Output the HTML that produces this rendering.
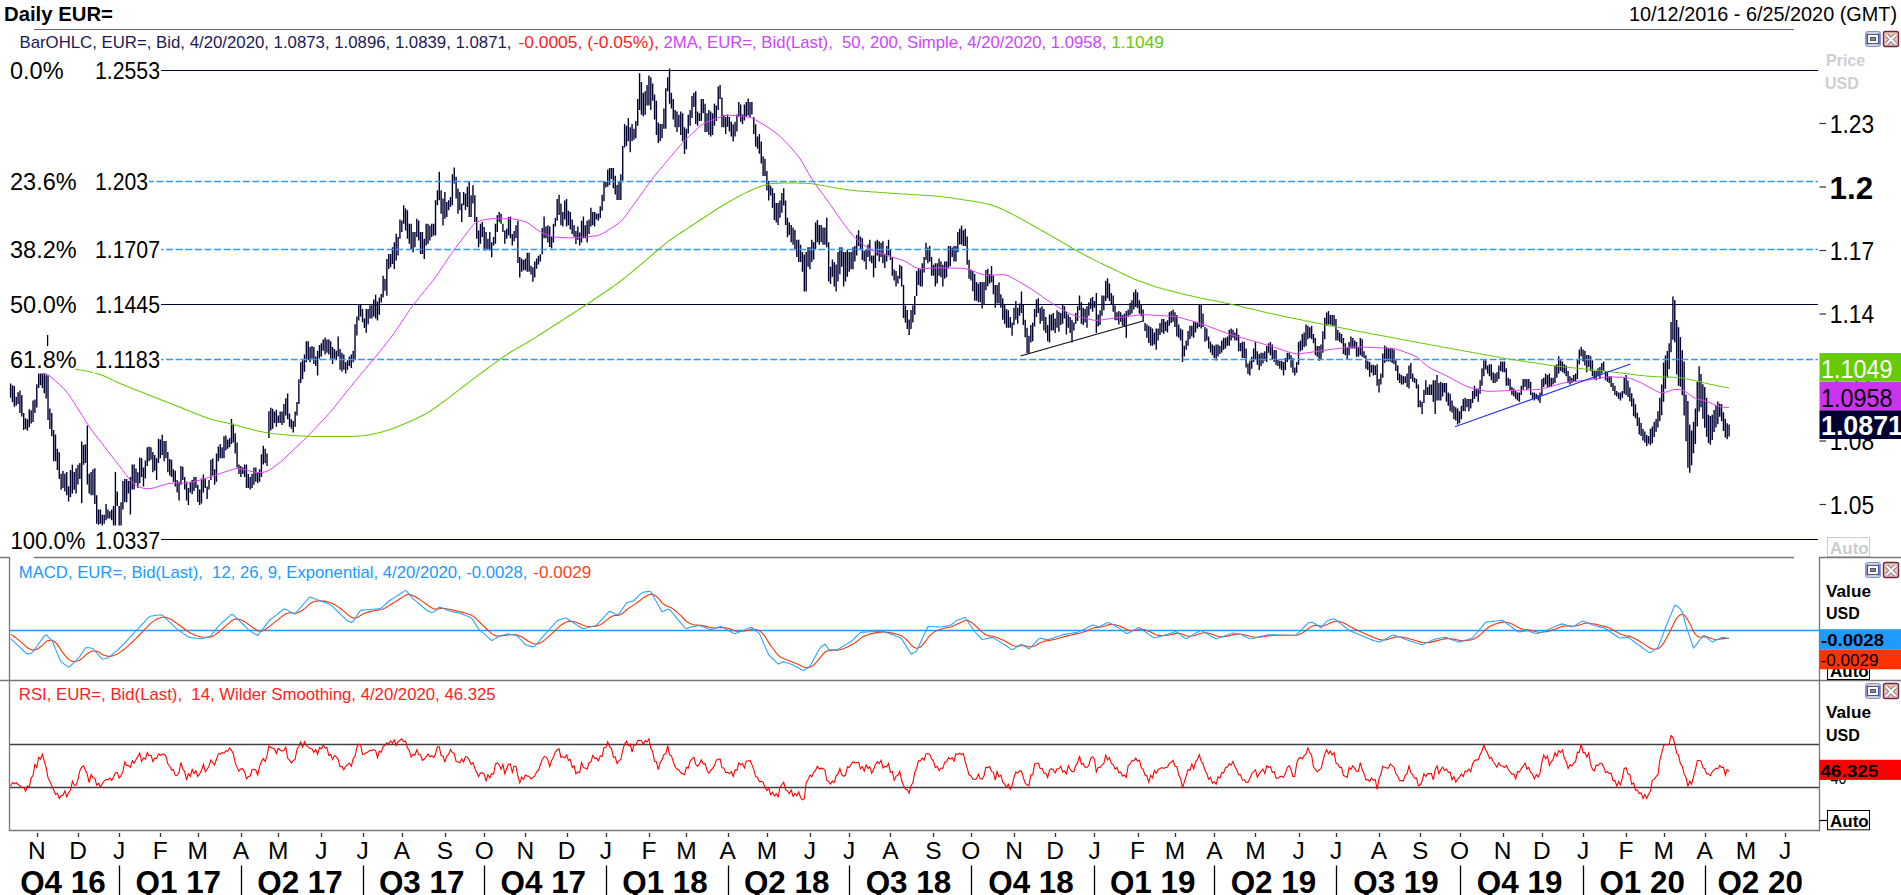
<!DOCTYPE html><html><head><meta charset="utf-8"><style>html,body{margin:0;padding:0;background:#fff;overflow:hidden}svg{display:block}text{font-family:"Liberation Sans",sans-serif}</style></head><body><svg width="1901" height="895" viewBox="0 0 1901 895"><rect width="1901" height="895" fill="#fff"/><text x="4" y="21" font-size="21" fill="#000" font-weight="bold" textLength="109" lengthAdjust="spacingAndGlyphs">Daily EUR=</text><text x="1629" y="21" font-size="21" fill="#000" textLength="268" lengthAdjust="spacingAndGlyphs">10/12/2016 - 6/25/2020 (GMT)</text><path d="M34 29.5H1794" stroke="#666" stroke-width="1"/><rect x="1865.5" y="31.5" width="15" height="15" rx="2" fill="#c9d0ea" stroke="#8a97c4" stroke-width="1"/><rect x="1866.5" y="33.5" width="1.6" height="11" fill="#48529a"/><rect x="1878" y="33.5" width="1.6" height="11" fill="#48529a"/><rect x="1868.2" y="34" width="9.8" height="9.5" fill="#fff"/><path d="M1868 34.5H1878M1868 43.5H1878" stroke="#5a5a5a" stroke-width="1"/><rect x="1870.5" y="37.5" width="5" height="3" fill="#7a88c8" stroke="#555" stroke-width="1"/><rect x="1883.5" y="31.5" width="15" height="15" rx="2" fill="#eec4b0" stroke="#6e2444" stroke-width="1.4"/><path d="M1886.5 35L1895.5 44M1895.5 35L1886.5 44" stroke="#7a7a80" stroke-width="4"/><path d="M1886.5 35L1895.5 44M1895.5 35L1886.5 44" stroke="#fff" stroke-width="2.4"/><text y="47.5" font-size="17" xml:space="preserve"><tspan x="19.5" fill="#1a1a55" textLength="492" lengthAdjust="spacingAndGlyphs">BarOHLC, EUR=, Bid, 4/20/2020, 1.0873, 1.0896, 1.0839, 1.0871,</tspan><tspan x="518.4" fill="#ff2222" textLength="140.5" lengthAdjust="spacingAndGlyphs">-0.0005, (-0.05%),</tspan><tspan x="663.5" fill="#cc44ff" textLength="443" lengthAdjust="spacingAndGlyphs">2MA, EUR=, Bid(Last),  50, 200, Simple, 4/20/2020, 1.0958,</tspan><tspan x="1111.2" fill="#66cc00" textLength="52.6" lengthAdjust="spacingAndGlyphs">1.1049</tspan></text><path d="M161 70.5H1818" stroke="#000033" stroke-width="1"/><path d="M161 304.5H1818" stroke="#000033" stroke-width="1"/><path d="M161 539.5H1818" stroke="#000033" stroke-width="1"/><g id="bars"><path d="M10.58 383.4V397.7M12.45 385.2V402.2M14.32 386.1V406.7M16.20 396.8V405.8M18.07 392.3V404M19.94 390.6V412.9M21.81 395V416.5M23.68 412.9V429.9M25.56 418.3V429M27.43 419.2V430.8M29.30 409.3V427.2M31.17 410.2V423.6M33.04 400.4V421.9M34.92 399.5V412.9M36.79 384.3V407.5M38.66 373.6V387.9M40.53 373.6V385.2M42.40 373.6V387.9M44.28 373.6V393.2M46.15 374.5V398.6M48.02 375.4V420.1M49.89 408.4V429M51.76 412.9V436.2M53.64 429.9V461.2M55.51 434.4V461.2M57.38 448.7V470.1M59.25 452.2V479.1M61.12 473.7V489.8M63.00 471V488M64.87 473.7V491.6M66.74 471.9V495.2M68.61 486.2V501.4M70.48 470.1V496.9M72.36 464.8V493.4M74.23 471.9V489.8M76.10 468.3V493.4M77.97 464.8V484.4M79.84 463V479.1M81.72 441.5V503.2M83.59 445.1V464.8M85.46 444.2V463M87.33 425.4V484.4M89.20 473.7V493.4M91.08 471.9V495.2M92.95 469.2V495.2M94.82 468.3V504.1M96.69 495.2V523.8M98.56 509.5V524.7M100.44 509.5V523.8M102.31 514.8V525.6M104.18 514.8V523.8M106.05 504.1V520.2M107.92 509.5V518.4M109.80 511.2V518.4M111.67 509.5V520.2M113.54 505.9V525.6M115.41 471.9V525.6M117.28 491.6V505.9M119.16 505.9V525.6M121.03 502.3V525.6M122.90 480.9V509.5M124.77 479.1V502.3M126.64 479.1V502.3M128.52 480.9V493.4M130.39 477V514.5M132.26 464.5V489.5M134.13 464.5V489.5M136.00 468.4V483.2M137.88 472.3V487.9M139.75 457.4V483.2M141.62 458.2V477M143.49 467.6V486.4M145.36 460.6V478.5M147.24 447.3V466M149.11 446.5V461.3M150.98 447.3V459.8M152.85 452V472.3M154.72 455.1V470.7M156.60 458.2V480.1M158.47 438.7V462.9M160.34 439.4V458.2M162.21 434.7V455.1M164.08 441V461.3M165.96 441V458.2M167.83 452V472.3M169.70 459V475.4M171.57 459.8V477M173.44 469.2V481.7M175.32 470.7V486.4M177.19 480.1V492.6M179.06 481.7V500.4M180.93 466V484.8M182.80 466.8V480.1M184.68 477V489.5M186.55 481.7V500.4M188.42 487.9V505.1M190.29 481.7V492.6M192.16 480.1V494.2M194.04 477V491.1M195.91 477V487.9M197.78 484.8V502M199.65 489.5V505.1M201.52 478.5V503.6M203.40 474.6V492.6M205.27 478.5V487.9M207.14 486.4V498.9M209.01 480.1V489.5M210.88 459.8V480.1M212.76 458.2V475.4M214.63 469.2V484.8M216.50 453.5V481.7M218.37 446.5V461.3M220.24 444.1V458.2M222.12 447.3V458.2M223.99 436.3V458.2M225.86 435.5V450.4M227.73 439.4V448.8M229.60 437.9V447.3M231.48 419.1V444.1M233.35 423.8V442.6M235.22 433.2V453.5M237.09 442.6V467.6M238.96 464.5V473.9M240.84 466V477M242.71 467.6V473.9M244.58 464.5V477M246.45 464.5V487.9M248.32 473.9V487.9M250.20 477V489.5M252.07 473.9V487.9M253.94 467.6V484.8M255.81 467.6V481.7M257.68 472.3V483.2M259.56 469.2V481.7M261.43 454.3V477M263.30 445.7V464.5M265.17 448.8V462.9M267.04 453.5V466M268.92 411.3V437.9M270.79 407.8V430.6M272.66 408.7V428.7M274.53 411.6V423M276.40 409.7V426.8M278.28 415.4V423M280.15 411.6V423M282.02 411.6V424.9M283.89 404V423M285.76 398.3V415.4M287.64 393.5V419.2M289.51 413.5V426.8M291.38 419.2V428.7M293.25 421.1V432.5M295.12 411.6V426.8M297.00 402.1V415.4M298.87 379.3V404M300.74 362.2V383.1M302.61 360.3V379.3M304.48 354.6V371.7M306.36 341.3V362.2M308.23 341.3V360.3M310.10 347V362.2M311.97 346V358.4M313.84 347V364.1M315.72 356.5V366M317.59 350.8V375.5M319.46 345.1V358.4M321.33 343.2V356.5M323.20 339.4V350.8M325.08 337.5V354.6M326.95 339.4V352.7M328.82 339.4V354.6M330.69 341.3V358.4M332.56 347V364.1M334.44 348.9V358.4M336.31 350.8V360.3M338.18 336.5V356.5M340.05 348.9V369.8M341.92 352.7V371.7M343.80 354.6V369.8M345.67 362.2V373.6M347.54 360.3V369.8M349.41 356.5V366M351.28 354.6V367.9M353.16 350.8V362.2M355.03 324.2V360.3M356.90 316.6V335.6M358.77 304.2V320.4M360.64 304.2V316.6M362.52 309V322.3M364.39 318.5V328M366.26 309V332.7M368.13 309V324.2M370.00 305.2V318.5M371.88 305.2V318.5M373.75 299.5V316.6M375.62 294.7V318.5M377.49 301.4V320.4M379.36 297.6V314.7M381.24 294.1V302.5M383.11 275.7V297.5M384.98 279V290.8M386.85 258.9V295.8M388.72 253.9V269M390.60 253.9V267.3M392.47 247.2V264M394.34 242.2V269M396.21 233.8V260.6M398.08 237.1V255.6M399.96 219.5V238.8M401.83 220.4V232.1M403.70 205.3V223.7M405.57 208.6V230.4M407.44 210.3V238.8M409.32 223.7V243.8M411.19 223.7V248.9M413.06 232.1V252.2M414.93 232.1V247.2M416.80 218.7V237.1M418.68 220.4V240.5M420.55 232.1V253.9M422.42 232.1V253.9M424.29 238.8V258.9M426.16 223.7V245.5M428.04 223.7V243.8M429.91 225.4V240.5M431.78 223.7V237.1M433.65 223.7V235.5M435.52 200.2V235.5M437.40 190.2V205.3M439.27 171.7V200.2M441.14 190.2V213.7M443.01 198.6V225.4M444.88 191.9V218.7M446.76 201.9V217M448.63 200.2V210.3M450.50 196.9V206.9M452.37 174.3V205.3M454.24 167.5V183.5M456.12 176.8V198.6M457.99 188.5V213.7M459.86 191.9V210.3M461.73 203.6V222M463.60 191.9V205.3M465.48 193.5V210.3M467.35 186.8V206.9M469.22 181V217M471.09 195.2V217M472.96 185.2V203.6M474.84 195.2V222M476.71 217V238.8M478.58 230.4V247.2M480.45 223.7V243.8M482.32 222V237.1M484.20 227.1V250.5M486.07 232.1V250.5M487.94 238.8V248.9M489.81 232.1V250.5M491.68 242.2V257.3M493.56 237.1V245.5M495.43 223.7V243.8M497.30 215.3V232.1M499.17 212V222M501.04 213.7V223.7M502.92 223.7V232.1M504.79 230.4V243.8M506.66 228.7V238.8M508.53 217V235.5M510.40 216.5V238.3M512.28 233.9V245.5M514.15 231V241.2M516.02 225.2V238.3M517.89 220.8V262.9M519.76 257.1V277.5M521.64 258.6V271.7M523.51 260V270.2M525.38 258.6V270.2M527.25 252.8V271.7M529.12 252.8V271.7M531.00 265.8V274.6M532.87 267.3V281.8M534.74 261.5V277.5M536.61 258.6V268.8M538.48 255.7V264.4M540.36 254.2V261.5M542.23 228.1V254.2M544.10 216.5V238.3M545.97 226.6V238.3M547.84 225.2V242.6M549.72 226.6V247M551.59 236.8V248.4M553.46 223.7V242.6M555.33 217.9V226.6M557.20 199V220.8M559.08 194.7V215M560.95 203.4V225.2M562.82 212.1V226.6M564.69 200.5V219.4M566.56 199V226.6M568.44 210.7V225.2M570.31 212.1V229.5M572.18 219.4V233.9M574.05 225.2V236.8M575.92 231V244.1M577.80 226.6V239.7M579.67 232.4V245.5M581.54 220.8V242.6M583.41 216.5V238.3M585.28 225.2V238.3M587.16 220.8V242.6M589.03 219.4V233.9M590.90 207.8V226.6M592.77 212.1V225.2M594.64 212.1V226.6M596.52 213.6V219.4M598.39 213.6V220.8M600.26 206.3V217.9M602.13 194.7V210.7M604.00 181.6V201.2M605.88 181.6V187.4M607.75 169.5V186.7M609.62 167.9V185.1M611.49 167.9V178.9M613.36 167.9V188.3M615.24 175.8V194.5M617.11 185.1V200M618.98 182V200M620.85 174.2V200M622.72 146V180.4M624.60 124.1V147.6M626.47 125.7V146M628.34 117.9V141.3M630.21 127.3V152.3M632.08 124.1V141.3M633.96 128.8V139.8M635.83 121V138.2M637.70 99.1V125.7M639.57 73.3V110.1M641.44 81.9V114.7M643.32 92.8V116.3M645.19 91.3V114.7M647.06 85V105.4M648.93 75.6V105.4M650.80 77.2V110.1M652.68 83.5V100.7M654.55 94.4V119.4M656.42 100.7V135.1M658.29 122.6V142.9M660.16 124.1V141.3M662.04 124.1V138.2M663.91 108.5V128.8M665.78 88.2V128.8M667.65 77.2V91.3M669.52 68.6V103.8M671.40 92.8V108.5M673.27 99.1V119.4M675.14 110.1V127.3M677.01 111.6V132M678.88 114.7V127.3M680.76 111.6V135.1M682.63 113.2V141.3M684.50 127.3V153.9M686.37 128.8V149.2M688.24 114.7V133.5M690.12 110.1V125.7M691.99 96V117.9M693.86 92.8V106.9M695.73 91.3V124.1M697.60 111.6V125.7M699.48 113.2V121M701.35 99.1V121M703.22 99.1V113.2M705.09 103.8V132M706.96 113.2V132M708.84 110.1V135.1M710.71 111.6V136.6M712.58 113.2V135.1M714.45 103.8V125.7M716.32 105.4V121M718.20 86.6V110.1M720.07 85V99.1M721.94 97.5V127.3M723.81 114.7V127.3M725.68 116.9V134.1M727.56 114.4V126.7M729.43 116.9V131.6M731.30 121.8V136.5M733.17 124.2V141.5M735.04 121.8V136.5M736.92 114.4V131.6M738.79 102.1V116.9M740.66 104.6V121.8M742.53 114.4V124.2M744.40 104.6V120.6M746.28 102.1V116.9M748.15 98.4V115.6M750.02 102.1V116.9M751.89 102.1V114.4M753.76 116.9V134.1M755.64 124.2V146.4M757.51 136.5V148.8M759.38 134.1V153.7M761.25 141.5V163.6M763.12 156.2V175.9M765.00 158.7V175.9M766.87 171V190.6M768.74 180.8V200.5M770.61 185.7V195.5M772.48 188.2V207.8M774.36 193.1V220.1M776.23 202.9V222.6M778.10 202.9V225M779.97 200.5V217.7M781.84 193.1V212.7M783.72 188.2V205.4M785.59 200.5V225M787.46 217.7V237.3M789.33 222.6V234.9M791.20 225V242.2M793.08 227.5V244.7M794.95 230V249.6M796.82 239.8V257M798.69 239.8V261.9M800.56 244.7V261.9M802.44 252.1V271.7M804.31 254.5V291.4M806.18 252.1V291.4M808.05 247.2V266.8M809.92 247.2V269.3M811.80 239.8V261.9M813.67 242.2V259.4M815.54 222.6V249.6M817.41 220.1V242.2M819.28 225V244.7M821.16 225V242.2M823.03 227.5V244.7M824.90 227.5V244.7M826.77 217.7V247.2M828.64 242.2V281.6M830.52 266.8V284M832.39 259.4V276.7M834.26 261.9V286.5M836.13 264.4V291.4M838.00 252.1V281.6M839.88 247.2V274.2M841.75 247.2V266.8M843.62 252.1V286.5M845.49 252.1V281.6M847.36 249.6V276.7M849.24 252.1V271.7M851.11 252.1V269.3M852.98 247.2V269.3M854.85 246V261.6M856.72 235V255.4M858.60 230.3V246M860.47 236.6V249.1M862.34 238.2V260.1M864.21 250.7V261.6M866.08 249.1V269.4M867.96 244.4V256.9M869.83 239.7V261.6M871.70 255.4V263.2M873.57 255.4V277.3M875.44 241.3V267.9M877.32 239.7V255.4M879.19 241.3V261.6M881.06 242.8V256.9M882.93 241.3V263.2M884.80 253.8V267.9M886.68 246V261.6M888.55 239.7V255.4M890.42 249.1V260.1M892.29 256.9V275.7M894.16 269.4V280.4M896.04 271V286.6M897.91 275.7V283.5M899.78 264.7V278.8M901.65 266.3V286.6M903.52 285.1V317.9M905.40 305.4V322.6M907.27 310.1V328.9M909.14 319.5V335.1M911.01 310.1V328.9M912.88 305.4V322.6M914.76 296V314.8M916.63 271V296M918.50 267.9V285.1M920.37 269.4V286.6M922.24 263.2V286.6M924.12 256.9V272.6M925.99 242.8V260.1M927.86 247.5V263.2M929.73 246V261.6M931.60 256.9V275.7M933.48 264.7V275.7M935.35 263.2V286.6M937.22 263.2V283.5M939.09 258.5V275.7M940.96 261.6V277.3M942.84 264.7V286.6M944.71 261.6V278.8M946.58 261.6V277.3M948.45 246V267.9M950.32 246V266.3M952.20 247.5V256.9M954.07 246V261.6M955.94 246V261.6M957.81 231.9V252.2M959.68 228.8V244.4M961.56 225.6V244.4M963.43 230.3V246M965.30 228.8V246M967.17 236.6V264.7M969.04 260.1V278.8M970.92 269.4V280.4M972.79 271V291.3M974.66 274.1V300.7M976.53 282V300.7M978.40 283.5V302.3M980.28 282V302.3M982.15 282V308.5M984.02 282V303.9M985.89 270.1V290.2M987.76 268.8V286.2M989.64 274.1V283.5M991.51 266.1V282.2M993.38 275.5V294.3M995.25 284.9V307.7M997.12 284.9V303.6M999.00 282.2V303.6M1000.87 294.3V307.7M1002.74 298.3V319.7M1004.61 305V323.8M1006.48 309V327.8M1008.36 310.3V327.8M1010.23 317.1V327.8M1012.10 322.4V335.8M1013.97 307.7V325.1M1015.84 301V319.7M1017.72 307.7V323.8M1019.59 303.6V315.7M1021.46 291.6V313M1023.33 305V325.1M1025.20 319.7V337.2M1027.08 327.8V353.3M1028.95 335.8V353.3M1030.82 325.1V342.5M1032.69 322.4V341.2M1034.56 309V326.4M1036.44 299.6V317.1M1038.31 298.3V313M1040.18 307.7V323.8M1042.05 306.3V321.1M1043.92 309V330.5M1045.80 317.1V333.1M1047.67 325.1V341.2M1049.54 314.4V342.5M1051.41 314.4V330.5M1053.28 313V330.5M1055.16 318.4V333.1M1057.03 310.3V327.8M1058.90 311.7V331.8M1060.77 313V325.1M1062.64 305V323.8M1064.52 306.3V318.4M1066.39 311.7V334.5M1068.26 314.4V327.8M1070.13 317.1V333.1M1072.00 319.7V342.5M1073.88 322.4V330.5M1075.75 313V323.8M1077.62 306.3V321.1M1079.49 295.6V310.3M1081.36 302.3V323.8M1083.24 307.7V325.1M1085.11 309V322.4M1086.98 306.3V327.8M1088.85 302.3V315.7M1090.72 298.3V309M1092.60 296.9V311.7M1094.47 301V307.7M1096.34 292.9V333.1M1098.21 314.4V326.4M1100.08 310.3V325.1M1101.96 295.6V315.7M1103.83 295.6V310.3M1105.70 280.8V301M1107.57 278.2V298.3M1109.44 283.5V301M1111.32 292.9V305M1113.19 295.6V311.7M1115.06 305.6V320.3M1116.93 312.3V320.3M1118.80 311V324.4M1120.68 312.3V321.7M1122.55 315V325.7M1124.42 313.6V327.1M1126.29 311V337.8M1128.16 309.6V316.3M1130.04 302.9V315M1131.91 300.2V313.6M1133.78 292.2V309.6M1135.65 289.5V306.9M1137.52 292.2V308.3M1139.40 300.2V313.6M1141.27 304.3V316.3M1143.14 309.6V321.7M1145.01 323V331.1M1146.88 324.4V337.8M1148.76 325.7V343.1M1150.63 327.1V345.8M1152.50 328.4V345.8M1154.37 332.4V344.5M1156.24 328.4V349.8M1158.12 328.4V340.5M1159.99 323V335.1M1161.86 319V332.4M1163.73 319V333.8M1165.60 321.7V331.1M1167.48 320.3V332.4M1169.35 312.3V325.7M1171.22 311V323M1173.09 309.6V321.7M1174.96 312.3V327.1M1176.84 315V336.4M1178.71 324.4V337.8M1180.58 328.4V340.5M1182.45 329.7V361.9M1184.32 345.8V356.6M1186.20 340.5V349.8M1188.07 331.1V345.8M1189.94 325.7V339.1M1191.81 325.7V336.4M1193.68 321.7V337.8M1195.56 321.7V332.4M1197.43 323V328.4M1199.30 304.3V327.1M1201.17 304.3V328.4M1203.04 313.6V327.1M1204.92 327.1V341.8M1206.79 328.4V340.5M1208.66 336.4V348.5M1210.53 341.8V352.5M1212.40 344.5V355.2M1214.28 345.8V357.9M1216.15 344.5V360.6M1218.02 344.5V356.6M1219.89 345.8V353.9M1221.76 340.5V352.5M1223.64 337.8V349.8M1225.51 337.8V348.5M1227.38 336.4V345.8M1229.25 329.7V345.8M1231.12 328.4V340.5M1233.00 329.7V337.8M1234.87 332.4V340.5M1236.74 328.4V340.5M1238.61 335.1V351.2M1240.48 343.1V351.2M1242.36 341.8V357.9M1244.23 341.8V357.9M1246.10 348.6V367.4M1247.97 363.4V374.1M1249.84 360.7V375.5M1251.72 356.7V368.8M1253.59 348.6V362.1M1255.46 341.9V359.4M1257.33 351.3V364.7M1259.20 354V370.1M1261.08 352.7V366.1M1262.95 352.7V363.4M1264.82 351.3V360.7M1266.69 346V362.1M1268.56 343.3V352.7M1270.44 341.9V355.3M1272.31 344.6V359.4M1274.18 350V362.1M1276.05 350V364.7M1277.92 359.4V366.1M1279.80 360.7V368.8M1281.67 360.7V370.1M1283.54 362.1V375.5M1285.41 358V370.1M1287.28 352.7V362.1M1289.16 352.7V359.4M1291.03 355.3V367.4M1292.90 358V372.8M1294.77 367.4V375.5M1296.64 362.1V372.8M1298.52 341.9V364.7M1300.39 340.6V351.3M1302.26 333.9V350M1304.13 332.5V347.3M1306.00 324.5V346M1307.88 325.8V339.3M1309.75 327.2V337.9M1311.62 325.8V339.3M1313.49 333.9V343.3M1315.36 337.9V355.3M1317.24 346V356.7M1319.11 346V360.7M1320.98 344.6V359.4M1322.85 331.2V352.7M1324.72 317.8V339.3M1326.60 312.4V325.8M1328.47 311.1V324.5M1330.34 315.1V324.5M1332.21 315.1V325.8M1334.08 315.1V325.8M1335.96 319.1V340.6M1337.83 329.9V340.6M1339.70 332.5V341.9M1341.57 333.9V343.3M1343.44 337.9V354M1345.32 343.3V355.3M1347.19 347.3V359.4M1349.06 341.9V355.3M1350.93 336.6V348.6M1352.80 337.9V348.6M1354.68 340.6V348.6M1356.55 341.9V356.7M1358.42 347.3V356.7M1360.29 337.9V355.3M1362.16 339.3V356.7M1364.04 351.3V358M1365.91 355.3V368.8M1367.78 360.7V370.1M1369.65 362.1V376.8M1371.52 364.7V372.8M1373.40 364.7V375.5M1375.27 365.6V375M1377.14 364.3V385.7M1379.01 379V392.4M1380.88 373.6V384.4M1382.76 353.5V377.7M1384.63 345.5V362.9M1386.50 346.8V361.6M1388.37 348.2V361.6M1390.24 348.2V361.6M1392.12 348.2V362.9M1393.99 349.5V364.3M1395.86 360.2V371M1397.73 365.6V380.3M1399.60 373.6V383M1401.48 375V384.4M1403.35 376.3V384.4M1405.22 376.3V383M1407.09 373.6V387.1M1408.96 365.6V388.4M1410.84 362.9V379M1412.71 373.6V381.7M1414.58 377.7V383M1416.45 379V388.4M1418.32 384.4V407.2M1420.20 400.5V407.2M1422.07 401.8V413.9M1423.94 389.7V403.1M1425.81 380.3V395.1M1427.68 387.1V395.1M1429.56 384.4V395.1M1431.43 384.4V395.1M1433.30 380.3V401.8M1435.17 380.3V413.9M1437.04 375V400.5M1438.92 383V400.5M1440.79 381.7V400.5M1442.66 383V396.4M1444.53 383V392.4M1446.40 383V401.8M1448.28 392.4V405.8M1450.15 393.8V411.2M1452.02 400.5V412.5M1453.89 405.8V419.2M1455.76 407.2V420.6M1457.64 408.5V424.6M1459.51 411.2V423.3M1461.38 405.8V419.2M1463.25 399.1V411.2M1465.12 397.8V411.2M1467.00 399.1V407.2M1468.87 399.1V411.2M1470.74 399.1V408.5M1472.61 391.1V403.1M1474.48 385.7V399.1M1476.36 388.4V396.4M1478.23 388.4V401.8M1480.10 380.3V393.8M1481.97 368.3V385.7M1483.84 360.2V376.3M1485.72 360.2V369.6M1487.59 365.6V373.6M1489.46 364.3V376.3M1491.33 364.3V380.3M1493.20 372.3V383M1495.08 373.6V383M1496.95 372.3V381.7M1498.82 365.6V379M1500.69 361.6V371M1502.56 361.6V372.3M1504.44 361.6V372.3M1506.31 368.3V385.7M1508.18 377.7V385.7M1510.05 379V391.1M1511.92 387.1V395.1M1513.80 388.4V396.4M1515.67 391.1V399.1M1517.54 392.4V400.5M1519.41 392.4V401.8M1521.28 385.7V395.1M1523.16 379V389.7M1525.03 379V387.1M1526.90 379V389.7M1528.77 379V388.4M1530.64 381.7V395.1M1532.52 392.4V399.1M1534.39 392.4V400.5M1536.26 393.8V399.1M1538.13 395.1V400.5M1540.00 392.4V403.1M1541.88 379V395.1M1543.75 377.7V387.1M1545.62 373.6V384.4M1547.49 375V387.1M1549.36 373.6V387.1M1551.24 377.7V387.1M1553.11 377.7V384.4M1554.98 365.6V383M1556.85 364.3V377.7M1558.72 356.2V373.6M1560.60 360.2V371M1562.47 361.6V372.3M1564.34 364.3V373.6M1566.21 365.6V376.3M1568.08 371V383M1569.96 376.3V384.4M1571.83 377.7V383M1573.70 375V381.7M1575.57 373.6V381.7M1577.44 358.9V379M1579.32 349.5V364.3M1581.19 346.8V356.2M1583.06 349.5V361.6M1584.93 350.8V365.6M1586.80 354.9V372.3M1588.68 354.9V366.9M1590.55 356.2V371M1592.42 360.2V376.3M1594.29 371V379M1596.16 371V380.3M1598.04 368.3V376.3M1599.91 366.9V379M1601.78 362.9V373.6M1603.65 361.6V371M1605.52 371V380.3M1607.40 372.3V381.7M1609.27 376.3V383M1611.14 376.3V387.1M1613.01 383V391.1M1614.88 385.7V395.1M1616.76 391.1V396.4M1618.63 392.4V399.1M1620.50 392.4V400.5M1622.37 391.1V397.8M1624.24 377.7V393.8M1626.12 375V395M1627.99 380.5V397.1M1629.86 387.4V401.5M1631.73 393.3V406.6M1633.60 398.5V416.2M1635.48 404.3V418.2M1637.35 412.8V426.1M1639.22 417.6V434.5M1641.09 422.8V436M1642.96 428.9V440.5M1644.84 431.4V442.8M1646.71 435.1V446.2M1648.58 435.9V443.8M1650.45 428.7V445.2M1652.32 426.4V443.2M1654.20 421.8V437M1656.07 418.9V431.8M1657.94 411.2V427.6M1659.81 397.7V421.3M1661.68 384.5V415.3M1663.56 362.4V401.7M1665.43 355.5V388.8M1667.30 350.9V377.8M1669.17 343.2V369.3M1671.04 322V352.3M1672.92 296.4V339.8M1674.79 300.1V342.2M1676.66 320V374.5M1678.53 327.2V385.8M1680.40 336.9V386.8M1682.28 350.3V395.3M1684.15 361.6V415.4M1686.02 394.4V441.2M1687.89 401.1V467.8M1689.76 424.4V472.8M1691.64 430.4V465.3M1693.51 421.8V453.3M1695.38 408.6V444M1697.25 381.7V426.5M1699.12 366.3V411.6M1701.00 373.9V407.2M1702.87 384.2V418.7M1704.74 387.1V427.7M1706.61 397.7V436.7M1708.48 414.7V443M1710.36 415.9V444.8M1712.23 414.8V439.9M1714.10 410.1V431.9M1715.97 405.2V427.4M1717.84 401.5V424.3M1719.72 403.7V416.7M1721.59 404V421.3M1723.46 412.3V430.9M1725.33 418.7V437.4M1727.20 423.2V439.3M1729.08 424.5V436.5" stroke="#000033" stroke-width="1.4" fill="none"/></g><path d="M149 181.5H1818" stroke="#3399ff" stroke-width="1.4" stroke-dasharray="7 2.59" stroke-dashoffset="2.1"/><path d="M161 249.5H1818" stroke="#3399ff" stroke-width="1.4" stroke-dasharray="7 2.59" stroke-dashoffset="4.5"/><path d="M161 359.5H1818" stroke="#3399ff" stroke-width="1.4" stroke-dasharray="7 2.59" stroke-dashoffset="4.5"/><path d="M10 361.4 L12 361.5 L14 361.7 L16 361.9 L18 362.1 L20 362.4 L22 362.6 L24 362.9 L26 363.1 L28 363.4 L30 363.7 L32 363.9 L34 364.2 L36 364.4 L38 364.7 L40 364.9 L42 365.2 L44 365.4 L46 365.7 L48 365.9 L50 366.1 L52 366.4 L54 366.6 L56 366.8 L58 367 L60 367.3 L62 367.5 L64 367.7 L66 368 L68 368.2 L70 368.4 L72 368.7 L74 369 L76 369.3 L78 369.6 L80 369.9 L82 370.2 L84 370.6 L86 370.9 L88 371.3 L90 371.7 L92 372.2 L94 372.7 L96 373.2 L98 373.9 L100 374.5 L102 375.3 L104 376.1 L106 376.9 L108 377.8 L110 378.7 L112 379.7 L114 380.6 L116 381.6 L118 382.5 L120 383.4 L122 384.3 L124 385.1 L126 386 L128 386.8 L130 387.6 L132 388.4 L134 389.2 L136 390 L138 390.7 L140 391.5 L142 392.3 L144 393.1 L146 393.9 L148 394.6 L150 395.4 L152 396.2 L154 397 L156 397.8 L158 398.6 L160 399.4 L162 400.2 L164 401 L166 401.8 L168 402.6 L170 403.3 L172 404.1 L174 404.9 L176 405.7 L178 406.5 L180 407.3 L182 408.1 L184 408.9 L186 409.7 L188 410.5 L190 411.3 L192 412.1 L194 412.9 L196 413.7 L198 414.5 L200 415.3 L202 416.1 L204 416.8 L206 417.5 L208 418.2 L210 418.8 L212 419.4 L214 420 L216 420.5 L218 420.9 L220 421.4 L222 421.8 L224 422.3 L226 422.7 L228 423.2 L230 423.7 L232 424.2 L234 424.7 L236 425.2 L238 425.8 L240 426.4 L242 426.9 L244 427.5 L246 428.1 L248 428.6 L250 429.1 L252 429.6 L254 430.1 L256 430.5 L258 431 L260 431.4 L262 431.8 L264 432.2 L266 432.5 L268 432.9 L270 433.2 L272 433.5 L274 433.7 L276 433.9 L278 434.1 L280 434.3 L282 434.5 L284 434.7 L286 434.9 L288 435 L290 435.2 L292 435.4 L294 435.5 L296 435.7 L298 435.8 L300 435.9 L302 436 L304 436.1 L306 436.2 L308 436.3 L310 436.3 L312 436.4 L314 436.4 L316 436.4 L318 436.4 L320 436.4 L322 436.4 L324 436.4 L326 436.4 L328 436.4 L330 436.4 L332 436.4 L334 436.4 L336 436.4 L338 436.4 L340 436.4 L342 436.4 L344 436.4 L346 436.4 L348 436.4 L350 436.4 L352 436.3 L354 436.3 L356 436.2 L358 436.1 L360 436 L362 435.8 L364 435.5 L366 435.2 L368 434.9 L370 434.6 L372 434.2 L374 433.8 L376 433.3 L378 432.9 L380 432.4 L382 431.9 L384 431.3 L386 430.7 L388 430 L390 429.4 L392 428.7 L394 427.9 L396 427.2 L398 426.4 L400 425.6 L402 424.8 L404 424 L406 423.1 L408 422.3 L410 421.4 L412 420.5 L414 419.6 L416 418.7 L418 417.7 L420 416.8 L422 415.7 L424 414.7 L426 413.6 L428 412.4 L430 411.2 L432 409.9 L434 408.5 L436 407.1 L438 405.7 L440 404.2 L442 402.7 L444 401.3 L446 399.8 L448 398.3 L450 396.8 L452 395.3 L454 393.7 L456 392.2 L458 390.7 L460 389.1 L462 387.6 L464 386 L466 384.5 L468 382.9 L470 381.4 L472 379.9 L474 378.4 L476 376.9 L478 375.4 L480 373.9 L482 372.4 L484 371 L486 369.5 L488 368 L490 366.6 L492 365.1 L494 363.6 L496 362.2 L498 360.7 L500 359.3 L502 357.9 L504 356.5 L506 355.1 L508 353.8 L510 352.5 L512 351.3 L514 350.1 L516 348.9 L518 347.8 L520 346.7 L522 345.5 L524 344.4 L526 343.2 L528 342 L530 340.8 L532 339.6 L534 338.4 L536 337.1 L538 335.8 L540 334.5 L542 333.3 L544 332 L546 330.7 L548 329.4 L550 328.1 L552 326.8 L554 325.5 L556 324.3 L558 323 L560 321.7 L562 320.4 L564 319.1 L566 317.8 L568 316.5 L570 315.3 L572 314 L574 312.7 L576 311.4 L578 310.1 L580 308.8 L582 307.5 L584 306.2 L586 304.9 L588 303.6 L590 302.2 L592 300.9 L594 299.5 L596 298.2 L598 296.8 L600 295.5 L602 294.1 L604 292.8 L606 291.4 L608 290 L610 288.7 L612 287.3 L614 285.9 L616 284.4 L618 283 L620 281.5 L622 280 L624 278.4 L626 276.8 L628 275.2 L630 273.6 L632 271.9 L634 270.2 L636 268.5 L638 266.9 L640 265.2 L642 263.5 L644 261.8 L646 260.1 L648 258.4 L650 256.6 L652 254.9 L654 253.2 L656 251.5 L658 249.8 L660 248.1 L662 246.4 L664 244.8 L666 243.2 L668 241.6 L670 240.1 L672 238.7 L674 237.3 L676 235.9 L678 234.6 L680 233.3 L682 232 L684 230.7 L686 229.4 L688 228.1 L690 226.8 L692 225.5 L694 224.1 L696 222.8 L698 221.5 L700 220.2 L702 218.8 L704 217.5 L706 216.2 L708 214.9 L710 213.6 L712 212.3 L714 211 L716 209.7 L718 208.4 L720 207.2 L722 206 L724 204.8 L726 203.6 L728 202.4 L730 201.2 L732 200.1 L734 198.9 L736 197.8 L738 196.7 L740 195.6 L742 194.6 L744 193.6 L746 192.6 L748 191.7 L750 190.8 L752 189.9 L754 189.1 L756 188.3 L758 187.5 L760 186.7 L762 186 L764 185.3 L766 184.7 L768 184.3 L770 183.9 L772 183.6 L774 183.4 L776 183.2 L778 183.1 L780 183.1 L782 183 L784 183 L786 183 L788 183 L790 183 L792 183 L794 183 L796 183 L798 183 L800 183.1 L802 183.1 L804 183.2 L806 183.3 L808 183.4 L810 183.6 L812 183.8 L814 184.1 L816 184.4 L818 184.7 L820 185.1 L822 185.4 L824 185.8 L826 186.1 L828 186.5 L830 186.8 L832 187.2 L834 187.6 L836 187.9 L838 188.3 L840 188.6 L842 189 L844 189.3 L846 189.6 L848 189.9 L850 190.1 L852 190.3 L854 190.5 L856 190.7 L858 190.9 L860 191 L862 191.2 L864 191.3 L866 191.5 L868 191.6 L870 191.7 L872 191.9 L874 192 L876 192.1 L878 192.3 L880 192.4 L882 192.6 L884 192.7 L886 192.8 L888 193 L890 193.1 L892 193.2 L894 193.4 L896 193.5 L898 193.6 L900 193.8 L902 193.9 L904 194 L906 194.1 L908 194.3 L910 194.4 L912 194.5 L914 194.7 L916 194.8 L918 194.9 L920 195 L922 195.2 L924 195.3 L926 195.4 L928 195.5 L930 195.7 L932 195.8 L934 196 L936 196.2 L938 196.3 L940 196.5 L942 196.8 L944 197 L946 197.3 L948 197.5 L950 197.8 L952 198.1 L954 198.4 L956 198.7 L958 199 L960 199.3 L962 199.6 L964 199.9 L966 200.2 L968 200.5 L970 200.8 L972 201.1 L974 201.4 L976 201.8 L978 202.1 L980 202.5 L982 202.8 L984 203.3 L986 203.7 L988 204.2 L990 204.7 L992 205.3 L994 205.9 L996 206.6 L998 207.4 L1000 208.3 L1002 209.2 L1004 210.1 L1006 211.1 L1008 212 L1010 213 L1012 214.1 L1014 215.1 L1016 216.1 L1018 217.2 L1020 218.3 L1022 219.4 L1024 220.5 L1026 221.6 L1028 222.8 L1030 223.9 L1032 225 L1034 226.2 L1036 227.3 L1038 228.4 L1040 229.6 L1042 230.7 L1044 231.8 L1046 233 L1048 234.1 L1050 235.2 L1052 236.4 L1054 237.5 L1056 238.6 L1058 239.8 L1060 241 L1062 242.1 L1064 243.3 L1066 244.5 L1068 245.6 L1070 246.8 L1072 248 L1074 249.1 L1076 250.2 L1078 251.3 L1080 252.5 L1082 253.5 L1084 254.6 L1086 255.7 L1088 256.8 L1090 257.8 L1092 258.9 L1094 259.9 L1096 260.9 L1098 261.9 L1100 262.9 L1102 263.8 L1104 264.8 L1106 265.7 L1108 266.7 L1110 267.6 L1112 268.5 L1114 269.5 L1116 270.4 L1118 271.4 L1120 272.4 L1122 273.3 L1124 274.3 L1126 275.3 L1128 276.2 L1130 277.1 L1132 278 L1134 278.9 L1136 279.7 L1138 280.5 L1140 281.3 L1142 282 L1144 282.8 L1146 283.5 L1148 284.2 L1150 284.9 L1152 285.6 L1154 286.2 L1156 286.9 L1158 287.5 L1160 288 L1162 288.6 L1164 289.2 L1166 289.7 L1168 290.2 L1170 290.8 L1172 291.3 L1174 291.8 L1176 292.3 L1178 292.8 L1180 293.3 L1182 293.8 L1184 294.2 L1186 294.7 L1188 295.2 L1190 295.6 L1192 296.1 L1194 296.5 L1196 297 L1198 297.4 L1200 297.9 L1202 298.3 L1204 298.7 L1206 299.1 L1208 299.5 L1210 299.9 L1212 300.3 L1214 300.7 L1216 301.1 L1218 301.5 L1220 301.9 L1222 302.3 L1224 302.8 L1226 303.2 L1228 303.6 L1230 304 L1232 304.5 L1234 304.9 L1236 305.3 L1238 305.8 L1240 306.3 L1242 306.7 L1244 307.2 L1246 307.7 L1248 308.2 L1250 308.6 L1252 309.1 L1254 309.6 L1256 310.1 L1258 310.6 L1260 311.1 L1262 311.5 L1264 312 L1266 312.5 L1268 312.9 L1270 313.4 L1272 313.8 L1274 314.3 L1276 314.7 L1278 315.1 L1280 315.5 L1282 316 L1284 316.4 L1286 316.8 L1288 317.2 L1290 317.6 L1292 318 L1294 318.4 L1296 318.8 L1298 319.2 L1300 319.6 L1302 320 L1304 320.5 L1306 320.9 L1308 321.3 L1310 321.7 L1312 322.1 L1314 322.5 L1316 322.9 L1318 323.3 L1320 323.7 L1322 324.1 L1324 324.5 L1326 324.9 L1328 325.3 L1330 325.7 L1332 326.1 L1334 326.5 L1336 326.8 L1338 327.2 L1340 327.6 L1342 328 L1344 328.4 L1346 328.8 L1348 329.2 L1350 329.6 L1352 330 L1354 330.4 L1356 330.8 L1358 331.2 L1360 331.5 L1362 331.9 L1364 332.3 L1366 332.7 L1368 333.1 L1370 333.5 L1372 333.9 L1374 334.2 L1376 334.6 L1378 335 L1380 335.4 L1382 335.7 L1384 336.1 L1386 336.5 L1388 336.8 L1390 337.2 L1392 337.6 L1394 338 L1396 338.3 L1398 338.7 L1400 339.1 L1402 339.4 L1404 339.8 L1406 340.2 L1408 340.6 L1410 340.9 L1412 341.3 L1414 341.7 L1416 342.1 L1418 342.4 L1420 342.8 L1422 343.2 L1424 343.5 L1426 343.9 L1428 344.3 L1430 344.7 L1432 345 L1434 345.4 L1436 345.8 L1438 346.1 L1440 346.5 L1442 346.9 L1444 347.2 L1446 347.6 L1448 348 L1450 348.3 L1452 348.7 L1454 349.1 L1456 349.4 L1458 349.8 L1460 350.2 L1462 350.5 L1464 350.9 L1466 351.3 L1468 351.6 L1470 352 L1472 352.4 L1474 352.7 L1476 353.1 L1478 353.5 L1480 353.8 L1482 354.2 L1484 354.5 L1486 354.9 L1488 355.3 L1490 355.6 L1492 356 L1494 356.4 L1496 356.7 L1498 357.1 L1500 357.5 L1502 357.8 L1504 358.2 L1506 358.5 L1508 358.8 L1510 359.2 L1512 359.5 L1514 359.8 L1516 360.1 L1518 360.4 L1520 360.7 L1522 361 L1524 361.3 L1526 361.6 L1528 361.9 L1530 362.2 L1532 362.5 L1534 362.8 L1536 363.1 L1538 363.4 L1540 363.7 L1542 364 L1544 364.3 L1546 364.6 L1548 364.9 L1550 365.2 L1552 365.5 L1554 365.7 L1556 366 L1558 366.2 L1560 366.4 L1562 366.7 L1564 366.9 L1566 367.1 L1568 367.3 L1570 367.5 L1572 367.7 L1574 367.9 L1576 368.1 L1578 368.3 L1580 368.5 L1582 368.7 L1584 368.9 L1586 369.1 L1588 369.3 L1590 369.5 L1592 369.7 L1594 369.9 L1596 370.1 L1598 370.3 L1600 370.5 L1602 370.7 L1604 370.9 L1606 371.2 L1608 371.4 L1610 371.6 L1612 371.9 L1614 372.1 L1616 372.4 L1618 372.6 L1620 372.9 L1622 373.1 L1624 373.4 L1626 373.6 L1628 373.9 L1630 374.1 L1632 374.4 L1634 374.6 L1636 374.9 L1638 375.1 L1640 375.4 L1642 375.6 L1644 375.8 L1646 376 L1648 376.2 L1650 376.3 L1652 376.5 L1654 376.6 L1656 376.7 L1658 376.8 L1660 376.8 L1662 376.9 L1664 376.9 L1666 377 L1668 377.1 L1670 377.1 L1672 377.2 L1674 377.3 L1676 377.4 L1678 377.6 L1680 377.8 L1682 378 L1684 378.3 L1686 378.7 L1688 379 L1690 379.5 L1692 379.9 L1694 380.4 L1696 380.8 L1698 381.3 L1700 381.8 L1702 382.3 L1704 382.8 L1706 383.2 L1708 383.7 L1710 384.2 L1712 384.6 L1714 385.1 L1716 385.5 L1718 385.9 L1720 386.3 L1722 386.7 L1724 387.1 L1726 387.4 L1728 387.7 L1729 387.8" stroke="#66cc00" stroke-width="1.05" fill="none"/><path d="M10 362.4 L12 362.9 L14 363.5 L16 364.1 L18 364.8 L20 365.5 L22 366.3 L24 367 L26 367.7 L28 368.4 L30 369.1 L32 369.8 L34 370.5 L36 371.2 L38 371.9 L40 372.5 L42 373 L44 373.5 L46 374 L48 374.9 L50 376.2 L52 377.8 L54 379.5 L56 381.4 L58 383.2 L60 385.1 L62 386.9 L64 388.9 L66 391.1 L68 393.6 L70 396.4 L72 399.5 L74 402.6 L76 405.8 L78 408.9 L80 412.1 L82 415.3 L84 418.5 L86 421.7 L88 424.8 L90 427.7 L92 430.5 L94 433.1 L96 435.7 L98 438.3 L100 440.9 L102 443.5 L104 446.1 L106 448.7 L108 451.3 L110 453.9 L112 456.5 L114 459.1 L116 461.7 L118 464.3 L120 466.8 L122 469.4 L124 472 L126 474.6 L128 477.2 L130 479.7 L132 482 L134 483.9 L136 485.3 L138 486.3 L140 487.1 L142 487.8 L144 488.4 L146 488.7 L148 488.8 L150 488.6 L152 488.3 L154 487.8 L156 487.2 L158 486.6 L160 486 L162 485.4 L164 484.8 L166 484.2 L168 483.7 L170 483.4 L172 483.1 L174 483 L176 483 L178 483 L180 483 L182 483 L184 483 L186 483 L188 482.9 L190 482.6 L192 482.3 L194 481.8 L196 481.2 L198 480.6 L200 480 L202 479.4 L204 478.8 L206 478.2 L208 477.6 L210 477 L212 476.3 L214 475.6 L216 475 L218 474.3 L220 473.6 L222 472.9 L224 472.2 L226 471.6 L228 470.9 L230 470.2 L232 469.6 L234 469 L236 468.7 L238 468.7 L240 468.9 L242 469.3 L244 469.7 L246 470.1 L248 470.6 L250 471.1 L252 471.5 L254 471.9 L256 472.3 L258 472.5 L260 472.6 L262 472.5 L264 472.1 L266 471.6 L268 470.7 L270 469.5 L272 468.2 L274 466.9 L276 465.4 L278 464 L280 462.4 L282 460.7 L284 458.8 L286 457 L288 455.1 L290 453.1 L292 451.2 L294 449.3 L296 447.4 L298 445.5 L300 443.6 L302 441.7 L304 439.7 L306 437.8 L308 435.8 L310 433.7 L312 431.6 L314 429.5 L316 427.4 L318 425.3 L320 423.2 L322 421.1 L324 419 L326 416.8 L328 414.6 L330 412.3 L332 410 L334 407.5 L336 405 L338 402.5 L340 400 L342 397.5 L344 395 L346 392.5 L348 390 L350 387.5 L352 385.1 L354 382.6 L356 380.2 L358 377.8 L360 375.4 L362 373 L364 370.6 L366 368.2 L368 365.8 L370 363.4 L372 361 L374 358.6 L376 356.1 L378 353.7 L380 351.2 L382 348.7 L384 346.2 L386 343.7 L388 341.2 L390 338.6 L392 336 L394 333.3 L396 330.4 L398 327.4 L400 324.5 L402 321.5 L404 318.5 L406 315.5 L408 312.5 L410 309.6 L412 306.7 L414 304 L416 301.4 L418 299 L420 296.5 L422 294.1 L424 291.6 L426 289.2 L428 286.7 L430 284.3 L432 281.8 L434 279.2 L436 276.5 L438 273.6 L440 270.6 L442 267.6 L444 264.7 L446 261.7 L448 258.7 L450 255.7 L452 252.8 L454 250 L456 247.3 L458 244.6 L460 242 L462 239.3 L464 236.7 L466 234 L468 231.3 L470 228.7 L472 226.3 L474 224.2 L476 222.6 L478 221.5 L480 220.9 L482 220.3 L484 219.8 L486 219.4 L488 219.1 L490 218.9 L492 218.7 L494 218.7 L496 218.7 L498 218.7 L500 218.7 L502 218.7 L504 218.7 L506 218.7 L508 218.7 L510 218.7 L512 218.8 L514 219 L516 219.3 L518 219.8 L520 220.3 L522 220.8 L524 221.4 L526 222.1 L528 223.2 L530 224.5 L532 225.9 L534 227.4 L536 228.9 L538 230.3 L540 231.5 L542 232.5 L544 233.4 L546 234.3 L548 235.1 L550 235.8 L552 236.5 L554 236.9 L556 237.1 L558 237.3 L560 237.4 L562 237.5 L564 237.6 L566 237.7 L568 237.8 L570 237.8 L572 237.8 L574 237.8 L576 237.7 L578 237.5 L580 237.3 L582 237.1 L584 237 L586 236.8 L588 236.6 L590 236.4 L592 236.2 L594 236 L596 235.8 L598 235.4 L600 234.8 L602 233.9 L604 232.8 L606 231.6 L608 230.3 L610 229 L612 227.7 L614 226.4 L616 225.1 L618 223.7 L620 222.1 L622 220.2 L624 217.9 L626 215.3 L628 212.6 L630 209.8 L632 207 L634 204.2 L636 201.4 L638 198.7 L640 195.9 L642 193.1 L644 190.3 L646 187.5 L648 184.7 L650 181.9 L652 179.2 L654 176.6 L656 174.1 L658 171.7 L660 169.3 L662 166.9 L664 164.6 L666 162.2 L668 159.8 L670 157.5 L672 155.1 L674 152.8 L676 150.4 L678 148.1 L680 145.8 L682 143.5 L684 141.4 L686 139.3 L688 137.4 L690 135.5 L692 133.6 L694 131.7 L696 129.8 L698 128 L700 126.2 L702 124.7 L704 123.5 L706 122.5 L708 121.6 L710 120.8 L712 120.1 L714 119.3 L716 118.6 L718 117.8 L720 117.1 L722 116.3 L724 115.7 L726 115.4 L728 115.2 L730 115.3 L732 115.4 L734 115.6 L736 115.8 L738 116 L740 116.2 L742 116.4 L744 116.6 L746 116.8 L748 117.1 L750 117.5 L752 118.2 L754 119.1 L756 120.2 L758 121.3 L760 122.5 L762 123.7 L764 124.9 L766 126.1 L768 127.4 L770 128.7 L772 130.1 L774 131.5 L776 133 L778 134.6 L780 136.3 L782 138.2 L784 140.3 L786 142.4 L788 144.5 L790 146.7 L792 148.9 L794 151.1 L796 153.4 L798 155.9 L800 158.8 L802 162 L804 165.4 L806 168.9 L808 172.4 L810 175.9 L812 179.1 L814 182.2 L816 185 L818 187.8 L820 190.4 L822 193.1 L824 195.8 L826 198.5 L828 201.2 L830 204.1 L832 207 L834 210 L836 212.9 L838 215.9 L840 218.8 L842 221.5 L844 224.2 L846 226.8 L848 229.4 L850 231.9 L852 234.4 L854 236.7 L856 238.8 L858 240.6 L860 242.2 L862 243.7 L864 245.2 L866 246.6 L868 247.9 L870 249.1 L872 250.1 L874 251 L876 251.7 L878 252.5 L880 253.2 L882 253.8 L884 254.5 L886 255.2 L888 255.9 L890 256.6 L892 257.2 L894 257.8 L896 258.3 L898 258.8 L900 259.4 L902 260 L904 260.8 L906 261.8 L908 262.9 L910 264.2 L912 265.5 L914 266.7 L916 267.7 L918 268.3 L920 268.6 L922 268.6 L924 268.6 L926 268.5 L928 268.4 L930 268.3 L932 268.2 L934 268.1 L936 268 L938 267.9 L940 267.9 L942 267.9 L944 267.9 L946 267.9 L948 268 L950 268 L952 268.1 L954 268.1 L956 268.2 L958 268.2 L960 268.3 L962 268.3 L964 268.5 L966 268.8 L968 269.3 L970 269.9 L972 270.7 L974 271.4 L976 272.2 L978 273 L980 273.7 L982 274.3 L984 274.8 L986 275.1 L988 275.2 L990 275.1 L992 275.1 L994 275 L996 274.9 L998 274.8 L1000 274.7 L1002 274.7 L1004 274.7 L1006 275 L1008 275.7 L1010 276.6 L1012 277.7 L1014 278.8 L1016 280 L1018 281.2 L1020 282.3 L1022 283.5 L1024 284.7 L1026 285.8 L1028 287 L1030 288.3 L1032 289.6 L1034 290.9 L1036 292.3 L1038 293.7 L1040 295.1 L1042 296.5 L1044 297.9 L1046 299.3 L1048 300.7 L1050 302 L1052 303.3 L1054 304.5 L1056 305.8 L1058 307 L1060 308.2 L1062 309.3 L1064 310.5 L1066 311.7 L1068 312.8 L1070 313.8 L1072 314.7 L1074 315.3 L1076 315.9 L1078 316.4 L1080 316.9 L1082 317.4 L1084 317.9 L1086 318.4 L1088 319 L1090 319.4 L1092 319.9 L1094 320.2 L1096 320.3 L1098 320.2 L1100 320 L1102 319.8 L1104 319.5 L1106 319.2 L1108 319 L1110 318.7 L1112 318.4 L1114 318.2 L1116 317.9 L1118 317.7 L1120 317.4 L1122 317.1 L1124 316.9 L1126 316.6 L1128 316.4 L1130 316.1 L1132 315.8 L1134 315.6 L1136 315.3 L1138 315.1 L1140 314.9 L1142 314.7 L1144 314.7 L1146 314.7 L1148 314.8 L1150 315 L1152 315.1 L1154 315.2 L1156 315.3 L1158 315.4 L1160 315.5 L1162 315.7 L1164 315.8 L1166 315.9 L1168 316 L1170 316.1 L1172 316.3 L1174 316.4 L1176 316.7 L1178 317.1 L1180 317.6 L1182 318.1 L1184 318.7 L1186 319.3 L1188 319.9 L1190 320.4 L1192 321 L1194 321.6 L1196 322.2 L1198 322.8 L1200 323.4 L1202 324.1 L1204 324.8 L1206 325.5 L1208 326.2 L1210 327 L1212 327.7 L1214 328.4 L1216 329.2 L1218 329.9 L1220 330.7 L1222 331.4 L1224 332.1 L1226 332.9 L1228 333.6 L1230 334.3 L1232 334.9 L1234 335.5 L1236 336.1 L1238 336.7 L1240 337.3 L1242 337.8 L1244 338.4 L1246 339 L1248 339.6 L1250 340.1 L1252 340.7 L1254 341.3 L1256 341.9 L1258 342.4 L1260 343 L1262 343.6 L1264 344.2 L1266 344.7 L1268 345.3 L1270 346 L1272 346.6 L1274 347.2 L1276 347.9 L1278 348.5 L1280 349.2 L1282 349.8 L1284 350.5 L1286 351.1 L1288 351.8 L1290 352.4 L1292 353 L1294 353.5 L1296 353.8 L1298 353.9 L1300 353.8 L1302 353.5 L1304 353.2 L1306 352.9 L1308 352.7 L1310 352.4 L1312 352.1 L1314 351.8 L1316 351.5 L1318 351.2 L1320 350.9 L1322 350.6 L1324 350.3 L1326 350 L1328 349.7 L1330 349.5 L1332 349.2 L1334 349 L1336 348.8 L1338 348.6 L1340 348.4 L1342 348.1 L1344 347.9 L1346 347.7 L1348 347.5 L1350 347.3 L1352 347.1 L1354 347 L1356 346.9 L1358 347 L1360 347 L1362 347.1 L1364 347.2 L1366 347.3 L1368 347.3 L1370 347.4 L1372 347.5 L1374 347.6 L1376 347.7 L1378 347.7 L1380 347.8 L1382 347.9 L1384 348 L1386 348.1 L1388 348.1 L1390 348.2 L1392 348.4 L1394 348.7 L1396 349.1 L1398 349.7 L1400 350.3 L1402 351 L1404 351.8 L1406 352.5 L1408 353.2 L1410 353.9 L1412 354.7 L1414 355.6 L1416 356.6 L1418 358 L1420 359.7 L1422 361.6 L1424 363.5 L1426 365.2 L1428 366.6 L1430 367.9 L1432 368.9 L1434 369.9 L1436 370.8 L1438 371.8 L1440 372.7 L1442 373.7 L1444 374.6 L1446 375.6 L1448 376.6 L1450 377.6 L1452 378.7 L1454 379.8 L1456 380.9 L1458 382 L1460 383.1 L1462 384.2 L1464 385.2 L1466 386.1 L1468 386.9 L1470 387.4 L1472 388 L1474 388.5 L1476 389 L1478 389.5 L1480 389.9 L1482 390.4 L1484 390.8 L1486 391.1 L1488 391.3 L1490 391.3 L1492 391.3 L1494 391.2 L1496 391.1 L1498 391 L1500 390.9 L1502 390.8 L1504 390.8 L1506 390.7 L1508 390.6 L1510 390.5 L1512 390.5 L1514 390.4 L1516 390.3 L1518 390.2 L1520 390.2 L1522 390.1 L1524 390 L1526 390 L1528 389.9 L1530 389.9 L1532 389.8 L1534 389.7 L1536 389.6 L1538 389.5 L1540 389.3 L1542 388.9 L1544 388.5 L1546 387.9 L1548 387.3 L1550 386.8 L1552 386.2 L1554 385.6 L1556 385 L1558 384.4 L1560 383.9 L1562 383.3 L1564 382.9 L1566 382.5 L1568 382.2 L1570 381.9 L1572 381.7 L1574 381.5 L1576 381.3 L1578 381 L1580 380.8 L1582 380.6 L1584 380.4 L1586 380.2 L1588 379.9 L1590 379.7 L1592 379.4 L1594 379.1 L1596 378.8 L1598 378.5 L1600 378.1 L1602 377.7 L1604 377.4 L1606 377.1 L1608 377 L1610 376.9 L1612 377 L1614 377 L1616 377.1 L1618 377.1 L1620 377.2 L1622 377.2 L1624 377.3 L1626 377.5 L1628 377.9 L1630 378.4 L1632 379.1 L1634 379.9 L1636 380.7 L1638 381.6 L1640 382.4 L1642 383.4 L1644 384.4 L1646 385.4 L1648 386.6 L1650 387.7 L1652 388.8 L1654 389.9 L1656 391 L1658 391.9 L1660 392.6 L1662 392.8 L1664 392.6 L1666 392 L1668 391.4 L1670 390.7 L1672 390.1 L1674 389.7 L1676 389.5 L1678 389.5 L1680 389.8 L1682 390.2 L1684 390.9 L1686 392 L1688 393.5 L1690 395 L1692 396.5 L1694 397.7 L1696 398.6 L1698 399.2 L1700 399.7 L1702 400.1 L1704 400.6 L1706 401.2 L1708 402 L1710 402.9 L1712 403.7 L1714 404.6 L1716 405.4 L1718 406 L1720 406.5 L1722 406.9 L1724 407.2 L1726 407.4 L1728 407.6 L1729 407.7" stroke="#e040fb" stroke-width="1.0" fill="none"/><path d="M47.6 335V346" stroke="#000033" stroke-width="1.3"/><path d="M1020.5 356L1143 321" stroke="#111" stroke-width="1.2"/><path d="M1455 426.7L1630.5 364" stroke="#2233ee" stroke-width="1.2"/><rect x="8" y="57" width="67" height="27" fill="#fff"/><rect x="93" y="57" width="68" height="27" fill="#fff"/><text x="10" y="79" font-size="23.5" fill="#000">0.0%</text><text x="95" y="79" font-size="23.5" fill="#000" textLength="65" lengthAdjust="spacingAndGlyphs">1.2553</text><rect x="8" y="168" width="67" height="27" fill="#fff"/><rect x="93" y="168" width="56" height="27" fill="#fff"/><text x="10" y="190" font-size="23.5" fill="#000">23.6%</text><text x="95" y="190" font-size="23.5" fill="#000" textLength="53" lengthAdjust="spacingAndGlyphs">1.203</text><rect x="8" y="236" width="67" height="27" fill="#fff"/><rect x="93" y="236" width="68" height="27" fill="#fff"/><text x="10" y="258" font-size="23.5" fill="#000">38.2%</text><text x="95" y="258" font-size="23.5" fill="#000" textLength="65" lengthAdjust="spacingAndGlyphs">1.1707</text><rect x="8" y="291" width="67" height="27" fill="#fff"/><rect x="93" y="291" width="68" height="27" fill="#fff"/><text x="10" y="313" font-size="23.5" fill="#000">50.0%</text><text x="95" y="313" font-size="23.5" fill="#000" textLength="65" lengthAdjust="spacingAndGlyphs">1.1445</text><rect x="8" y="346" width="67" height="27" fill="#fff"/><rect x="93" y="346" width="68" height="27" fill="#fff"/><text x="10" y="368" font-size="23.5" fill="#000">61.8%</text><text x="95" y="368" font-size="23.5" fill="#000" textLength="65" lengthAdjust="spacingAndGlyphs">1.1183</text><rect x="8" y="526" width="153" height="27" fill="#fff"/><text x="10.5" y="548.5" font-size="23.5" fill="#000" textLength="75" lengthAdjust="spacingAndGlyphs">100.0%</text><text x="95" y="548.5" font-size="23.5" fill="#000" textLength="65" lengthAdjust="spacingAndGlyphs">1.0337</text><text x="1826" y="65.5" font-size="16" fill="#cfcfcf" font-weight="bold">Price</text><text x="1825" y="88.5" font-size="16" fill="#cfcfcf" font-weight="bold">USD</text><path d="M1819.5 123.5H1826" stroke="#333" stroke-width="1.2"/><text x="1829.8" y="132.7" font-size="26" fill="#000" textLength="44.4" lengthAdjust="spacingAndGlyphs">1.23</text><path d="M1819.5 187H1826" stroke="#333" stroke-width="1.2"/><text x="1829.6" y="198.5" font-size="31" fill="#000" font-weight="bold" textLength="43.6" lengthAdjust="spacingAndGlyphs">1.2</text><path d="M1819.5 250.5H1826" stroke="#333" stroke-width="1.2"/><text x="1829.8" y="259.7" font-size="26" fill="#000" textLength="44.4" lengthAdjust="spacingAndGlyphs">1.17</text><path d="M1819.5 314H1826" stroke="#333" stroke-width="1.2"/><text x="1829.8" y="323.2" font-size="26" fill="#000" textLength="44.4" lengthAdjust="spacingAndGlyphs">1.14</text><path d="M1819.5 377.5H1826" stroke="#333" stroke-width="1.2"/><text x="1829.8" y="386.7" font-size="26" fill="#000" textLength="44.4" lengthAdjust="spacingAndGlyphs">1.11</text><path d="M1819.5 441H1826" stroke="#333" stroke-width="1.2"/><text x="1829.8" y="450.2" font-size="26" fill="#000" textLength="44.4" lengthAdjust="spacingAndGlyphs">1.08</text><path d="M1819.5 504.5H1826" stroke="#333" stroke-width="1.2"/><text x="1829.8" y="513.7" font-size="26" fill="#000" textLength="44.4" lengthAdjust="spacingAndGlyphs">1.05</text><rect x="1819.5" y="353" width="82" height="28.6" fill="#66cc00"/><text x="1821" y="378" font-size="26" fill="#fff" textLength="71.5" lengthAdjust="spacingAndGlyphs">1.1049</text><rect x="1819.5" y="381.8" width="82" height="28.6" fill="#cc33ee"/><text x="1821" y="406.8" font-size="26" fill="#000" textLength="71.5" lengthAdjust="spacingAndGlyphs">1.0958</text><rect x="1819.5" y="410.4" width="82" height="28.6" fill="#000033"/><text x="1821" y="435.4" font-size="27" fill="#fff" font-weight="bold" textLength="82" lengthAdjust="spacingAndGlyphs">1.0871</text><rect x="1827.5" y="537.5" width="42" height="19" fill="#fff" stroke="#ccc" stroke-width="1"/><text x="1830" y="554" font-size="17" fill="#ccc" font-weight="bold">Auto</text><path d="M0 557.5H9.5V831" stroke="#777" stroke-width="1.3" fill="none"/><path d="M34 557.5H1794" stroke="#777" stroke-width="1.3"/><path d="M0 680.5H1901" stroke="#777" stroke-width="1.3"/><path d="M9.5 830.5H1819.5V557.5H1901" stroke="#777" stroke-width="1.3" fill="none"/><text y="578" font-size="17" xml:space="preserve"><tspan x="18.8" fill="#2299ff" textLength="508.7" lengthAdjust="spacingAndGlyphs">MACD, EUR=, Bid(Last),  12, 26, 9, Exponential, 4/20/2020, -0.0028,</tspan><tspan x="533.3" fill="#ff4422" textLength="57.9" lengthAdjust="spacingAndGlyphs">-0.0029</tspan></text><path d="M10 630.5H1819" stroke="#1e9bff" stroke-width="1.3"/><path d="M10.6 634.1 L12.5 635.4 L14.3 636.7 L16.2 638.1 L18.1 639.6 L19.9 641.2 L21.8 642.8 L23.7 644.4 L25.6 646.1 L27.4 647.7 L29.3 648.8 L31.2 649.7 L33 650.1 L34.9 649.9 L36.8 649.2 L38.7 648.2 L40.5 646.8 L42.4 645.1 L44.3 643.3 L46.1 641.6 L48 640.6 L49.9 640.2 L51.8 640.2 L53.6 641 L55.5 642.5 L57.4 644.7 L59.3 647.4 L61.1 650.3 L63 652.9 L64.9 655.3 L66.7 657.4 L68.6 659.4 L70.5 660.7 L72.4 661.4 L74.2 661.6 L76.1 661.3 L78 660.8 L79.8 659.9 L81.7 658.6 L83.6 657 L85.5 655.2 L87.3 653.7 L89.2 652.5 L91.1 651.6 L92.9 651 L94.8 651 L96.7 651.4 L98.6 652.1 L100.4 653.2 L102.3 654.4 L104.2 655.2 L106.1 655.9 L107.9 656.3 L109.8 656.4 L111.7 656.1 L113.5 655.6 L115.4 654.8 L117.3 653.9 L119.2 652.9 L121 651.6 L122.9 650.3 L124.8 648.8 L126.6 647.2 L128.5 645.6 L130.4 643.8 L132.3 642 L134.1 640.2 L136 638.4 L137.9 636.5 L139.7 634.6 L141.6 632.6 L143.5 630.7 L145.4 628.7 L147.2 626.8 L149.1 624.8 L151 623.1 L152.9 621.6 L154.7 620.4 L156.6 619.3 L158.5 618.5 L160.3 617.7 L162.2 617.2 L164.1 617.1 L166 617.4 L167.8 618 L169.7 618.8 L171.6 619.8 L173.4 621 L175.3 622.3 L177.2 623.6 L179.1 625 L180.9 626.3 L182.8 627.7 L184.7 629 L186.5 630.4 L188.4 631.7 L190.3 632.9 L192.2 633.8 L194 634.7 L195.9 635.4 L197.8 636 L199.7 636.6 L201.5 637 L203.4 637.2 L205.3 637.3 L207.1 637.3 L209 637.2 L210.9 636.9 L212.8 636.2 L214.6 635.1 L216.5 633.8 L218.4 632.3 L220.2 630.7 L222.1 629.1 L224 627.5 L225.9 625.9 L227.7 624.2 L229.6 622.6 L231.5 621 L233.3 619.7 L235.2 619.1 L237.1 619 L239 619.2 L240.8 619.8 L242.7 620.7 L244.6 621.7 L246.5 622.9 L248.3 624.3 L250.2 625.6 L252.1 627 L253.9 628.2 L255.8 629.5 L257.7 630.7 L259.6 631.2 L261.4 631.1 L263.3 630.5 L265.2 629.6 L267 628.3 L268.9 626.9 L270.8 625.4 L272.7 623.9 L274.5 622.4 L276.4 620.9 L278.3 619.4 L280.1 617.9 L282 616.4 L283.9 615 L285.8 613.8 L287.6 613.2 L289.5 612.8 L291.4 612.8 L293.3 613 L295.1 613.2 L297 612.9 L298.9 612.2 L300.7 611.2 L302.6 610 L304.5 608.6 L306.4 607.1 L308.2 605.4 L310.1 603.7 L312 602.5 L313.8 601.7 L315.7 601.2 L317.6 600.9 L319.5 600.8 L321.3 600.9 L323.2 601.1 L325.1 601.4 L326.9 601.8 L328.8 602.2 L330.7 602.7 L332.6 603.5 L334.4 604.5 L336.3 605.6 L338.2 606.9 L340.1 608.3 L341.9 609.7 L343.8 611.3 L345.7 612.8 L347.5 614.4 L349.4 615.8 L351.3 617.2 L353.2 618 L355 618.1 L356.9 617.6 L358.8 616.7 L360.6 615.4 L362.5 614.3 L364.4 613.5 L366.3 612.7 L368.1 612.1 L370 611.6 L371.9 611.1 L373.7 610.8 L375.6 610.4 L377.5 610.1 L379.4 609.8 L381.2 609.5 L383.1 608.9 L385 608 L386.9 607 L388.7 605.9 L390.6 604.7 L392.5 603.5 L394.3 602.4 L396.2 601.2 L398.1 600 L400 598.8 L401.8 597.6 L403.7 596.4 L405.6 595.2 L407.4 594.5 L409.3 594.5 L411.2 594.9 L413.1 595.7 L414.9 596.6 L416.8 597.7 L418.7 598.8 L420.5 600.1 L422.4 601.4 L424.3 602.7 L426.2 604.1 L428 605.5 L429.9 606.8 L431.8 607.9 L433.7 608.8 L435.5 609.1 L437.4 609.1 L439.3 608.7 L441.1 608.5 L443 608.4 L444.9 608.6 L446.8 608.8 L448.6 609.2 L450.5 609.6 L452.4 610 L454.2 610.4 L456.1 610.9 L458 611.3 L459.9 611.7 L461.7 612.1 L463.6 612.6 L465.5 613.2 L467.3 613.7 L469.2 614.4 L471.1 615 L473 616.1 L474.8 617.5 L476.7 619.2 L478.6 621.1 L480.5 623 L482.3 624.9 L484.2 626.7 L486.1 628.5 L487.9 630.2 L489.8 631.9 L491.7 633.6 L493.6 634.8 L495.4 635.6 L497.3 635.9 L499.2 636 L501 635.9 L502.9 635.7 L504.8 635.5 L506.7 635.3 L508.5 635 L510.4 634.8 L512.3 634.8 L514.1 634.8 L516 634.9 L517.9 635.3 L519.8 635.9 L521.6 636.8 L523.5 638 L525.4 639.3 L527.3 640.5 L529.1 641.6 L531 642.6 L532.9 643.5 L534.7 644 L536.6 644 L538.5 643.6 L540.4 642.8 L542.2 641.7 L544.1 640.4 L546 638.9 L547.8 637.4 L549.7 635.7 L551.6 633.9 L553.5 632.1 L555.3 630.3 L557.2 628.4 L559.1 626.7 L560.9 625.2 L562.8 623.9 L564.7 622.8 L566.6 621.9 L568.4 621.4 L570.3 621.3 L572.2 621.4 L574.1 621.8 L575.9 622.3 L577.8 623 L579.7 623.7 L581.5 624.6 L583.4 625.4 L585.3 626 L587.2 626.3 L589 626.5 L590.9 626.6 L592.8 626.5 L594.6 626.4 L596.5 626.1 L598.4 625.5 L600.3 624.7 L602.1 623.6 L604 622.3 L605.9 620.9 L607.7 619.3 L609.6 617.7 L611.5 616.6 L613.4 615.8 L615.2 615.5 L617.1 615.4 L619 615.1 L620.9 614.3 L622.7 613.2 L624.6 611.7 L626.5 610 L628.3 608.4 L630.2 607.1 L632.1 606 L634 604.9 L635.8 603.6 L637.7 602.3 L639.6 600.8 L641.4 599.3 L643.3 597.9 L645.2 596.7 L647.1 595.7 L648.9 594.8 L650.8 594.2 L652.7 594.4 L654.5 595.2 L656.4 596.5 L658.3 598.3 L660.2 600.3 L662 602.6 L663.9 604.3 L665.8 605.5 L667.7 606.2 L669.5 606.9 L671.4 607.8 L673.3 609.1 L675.1 610.5 L677 612.1 L678.9 613.8 L680.8 615.6 L682.6 617.5 L684.5 619.5 L686.4 621.3 L688.2 622.6 L690.1 623.6 L692 624.2 L693.9 624.7 L695.7 625 L697.6 625.1 L699.5 625.2 L701.3 625.4 L703.2 625.7 L705.1 626.1 L707 626.6 L708.8 627 L710.7 627.6 L712.6 627.9 L714.5 628 L716.3 628 L718.2 627.8 L720.1 627.6 L721.9 627.4 L723.8 627.5 L725.7 627.8 L727.6 628.2 L729.4 628.8 L731.3 629.5 L733.2 630.2 L735 630.9 L736.9 631.3 L738.8 631.5 L740.7 631.5 L742.5 631.3 L744.4 631 L746.3 630.6 L748.1 630.2 L750 629.7 L751.9 629.3 L753.8 629.2 L755.6 629.5 L757.5 630 L759.4 630.7 L761.3 632.1 L763.1 634.1 L765 636.6 L766.9 639.5 L768.7 642.6 L770.6 645.4 L772.5 648 L774.4 650.5 L776.2 652.8 L778.1 655.1 L780 656.7 L781.8 657.8 L783.7 658.6 L785.6 659.4 L787.5 660.1 L789.3 660.8 L791.2 661.5 L793.1 662.2 L794.9 662.9 L796.8 663.7 L798.7 664.6 L800.6 665.5 L802.4 666.5 L804.3 667.2 L806.2 667.6 L808.1 667.6 L809.9 667.3 L811.8 666.4 L813.7 665 L815.5 663.2 L817.4 661.1 L819.3 658.7 L821.2 656.3 L823 654.2 L824.9 652.2 L826.8 651 L828.6 650.8 L830.5 650.6 L832.4 650.4 L834.3 650.3 L836.1 650.3 L838 650.1 L839.9 649.7 L841.7 649.2 L843.6 648.5 L845.5 647.8 L847.4 647 L849.2 646.1 L851.1 645.1 L853 644.1 L854.9 642.9 L856.7 641.5 L858.6 640.1 L860.5 638.6 L862.3 637.3 L864.2 636.2 L866.1 635.4 L868 634.7 L869.8 634.1 L871.7 633.6 L873.6 633.2 L875.4 632.9 L877.3 632.6 L879.2 632.4 L881.1 632.2 L882.9 632 L884.8 632 L886.7 632.2 L888.5 632.4 L890.4 632.7 L892.3 633.1 L894.2 633.5 L896 634 L897.9 634.6 L899.8 635.2 L901.7 635.9 L903.5 637.1 L905.4 638.7 L907.3 640.5 L909.1 642.6 L911 644.8 L912.9 646.5 L914.8 647.7 L916.6 648.3 L918.5 648 L920.4 647 L922.2 645.3 L924.1 643.2 L926 640.7 L927.9 638 L929.7 635.6 L931.6 633.8 L933.5 632.4 L935.3 631.3 L937.2 630.4 L939.1 629.7 L941 629.2 L942.8 628.7 L944.7 628.2 L946.6 627.8 L948.5 627.4 L950.3 627 L952.2 626.4 L954.1 625.6 L955.9 624.7 L957.8 623.8 L959.7 622.9 L961.6 622.1 L963.4 621.3 L965.3 620.5 L967.2 620.4 L969 621 L970.9 622 L972.8 623.4 L974.7 625 L976.5 626.7 L978.4 628.5 L980.3 630.3 L982.1 632.2 L984 633.6 L985.9 634.7 L987.8 635.4 L989.6 635.9 L991.5 636.2 L993.4 636.5 L995.3 637 L997.1 637.6 L999 638.4 L1000.9 639.2 L1002.7 640.1 L1004.6 641 L1006.5 642 L1008.4 643.1 L1010.2 644.1 L1012.1 645.2 L1014 646 L1015.8 646.3 L1017.7 646.3 L1019.6 646 L1021.5 645.7 L1023.3 645.6 L1025.2 645.8 L1027.1 646.2 L1028.9 646.7 L1030.8 646.8 L1032.7 646.5 L1034.6 645.9 L1036.4 645 L1038.3 643.8 L1040.2 642.7 L1042.1 641.9 L1043.9 641.3 L1045.8 640.9 L1047.7 640.7 L1049.5 640.4 L1051.4 640 L1053.3 639.6 L1055.2 639.2 L1057 638.7 L1058.9 638.2 L1060.8 637.6 L1062.6 637.1 L1064.5 636.5 L1066.4 636.1 L1068.3 635.6 L1070.1 635.2 L1072 634.8 L1073.9 634.4 L1075.7 634.1 L1077.6 633.7 L1079.5 633.3 L1081.4 632.7 L1083.2 632.1 L1085.1 631.4 L1087 630.7 L1088.9 629.9 L1090.7 629.1 L1092.6 628.3 L1094.5 627.7 L1096.3 627.4 L1098.2 627.3 L1100.1 627.1 L1102 626.7 L1103.8 626.3 L1105.7 625.7 L1107.6 625.1 L1109.4 624.6 L1111.3 624.4 L1113.2 624.5 L1115.1 624.8 L1116.9 625.2 L1118.8 625.8 L1120.7 626.5 L1122.5 627.4 L1124.4 628.3 L1126.3 629.3 L1128.2 630.1 L1130 630.5 L1131.9 630.6 L1133.8 630.5 L1135.7 630.2 L1137.5 629.7 L1139.4 629.3 L1141.3 629.2 L1143.1 629.4 L1145 629.9 L1146.9 630.5 L1148.8 631.3 L1150.6 632.1 L1152.5 633.1 L1154.4 634.1 L1156.2 634.8 L1158.1 635.2 L1160 635.4 L1161.9 635.5 L1163.7 635.5 L1165.6 635.4 L1167.5 635.2 L1169.3 634.9 L1171.2 634.5 L1173.1 634.1 L1175 633.6 L1176.8 633.3 L1178.7 633.3 L1180.6 633.6 L1182.5 634.2 L1184.3 634.9 L1186.2 635.7 L1188.1 636.1 L1189.9 636.2 L1191.8 636 L1193.7 635.7 L1195.6 635.2 L1197.4 634.6 L1199.3 633.9 L1201.2 633.2 L1203 632.8 L1204.9 632.8 L1206.8 632.9 L1208.7 633.2 L1210.5 633.7 L1212.4 634.3 L1214.3 635 L1216.1 635.8 L1218 636.3 L1219.9 636.5 L1221.8 636.6 L1223.6 636.6 L1225.5 636.4 L1227.4 636.1 L1229.3 635.7 L1231.1 635.3 L1233 634.9 L1234.9 634.5 L1236.7 634.3 L1238.6 634.2 L1240.5 634.2 L1242.4 634.4 L1244.2 634.7 L1246.1 635.2 L1248 635.7 L1249.8 636.3 L1251.7 636.8 L1253.6 637 L1255.5 637.2 L1257.3 637.2 L1259.2 637.1 L1261.1 637 L1262.9 636.8 L1264.8 636.5 L1266.7 636.3 L1268.6 635.9 L1270.4 635.7 L1272.3 635.5 L1274.2 635.4 L1276.1 635.3 L1277.9 635.3 L1279.8 635.2 L1281.7 635.2 L1283.5 635.2 L1285.4 635.2 L1287.3 635.2 L1289.2 635.3 L1291 635.3 L1292.9 635.3 L1294.8 635.4 L1296.6 635.2 L1298.5 634.7 L1300.4 633.9 L1302.3 632.9 L1304.1 631.7 L1306 630.4 L1307.9 629 L1309.7 627.6 L1311.6 626.6 L1313.5 625.8 L1315.4 625.4 L1317.2 625.4 L1319.1 625.7 L1321 626.1 L1322.9 626 L1324.7 625.5 L1326.6 624.7 L1328.5 623.8 L1330.3 623 L1332.2 622.2 L1334.1 621.5 L1336 621.2 L1337.8 621.3 L1339.7 621.6 L1341.6 622.2 L1343.4 622.9 L1345.3 623.8 L1347.2 624.8 L1349.1 625.9 L1350.9 626.9 L1352.8 627.9 L1354.7 628.9 L1356.5 629.8 L1358.4 630.7 L1360.3 631.6 L1362.2 632.5 L1364 633.3 L1365.9 634.2 L1367.8 635 L1369.7 635.8 L1371.5 636.6 L1373.4 637.4 L1375.3 638.1 L1377.1 638.8 L1379 639.4 L1380.9 639.9 L1382.8 640 L1384.6 639.9 L1386.5 639.6 L1388.4 639.2 L1390.2 638.6 L1392.1 638 L1394 637.4 L1395.9 637 L1397.7 636.9 L1399.6 637 L1401.5 637.1 L1403.3 637.4 L1405.2 637.8 L1407.1 638.2 L1409 638.7 L1410.8 639.2 L1412.7 639.7 L1414.6 640.2 L1416.5 640.8 L1418.3 641.4 L1420.2 641.9 L1422.1 642.5 L1423.9 642.8 L1425.8 642.8 L1427.7 642.7 L1429.6 642.4 L1431.4 642.1 L1433.3 641.6 L1435.2 641.1 L1437 640.6 L1438.9 640.1 L1440.8 639.7 L1442.7 639.3 L1444.5 638.9 L1446.4 638.6 L1448.3 638.6 L1450.1 638.7 L1452 638.9 L1453.9 639.2 L1455.8 639.6 L1457.6 640 L1459.5 640.4 L1461.4 640.7 L1463.3 640.7 L1465.1 640.6 L1467 640.5 L1468.9 640.2 L1470.7 639.9 L1472.6 639.5 L1474.5 638.7 L1476.4 637.6 L1478.2 636.3 L1480.1 634.8 L1482 633.2 L1483.8 631.4 L1485.7 629.6 L1487.6 628 L1489.5 626.8 L1491.3 625.7 L1493.2 624.9 L1495.1 624.1 L1496.9 623.5 L1498.8 622.9 L1500.7 622.5 L1502.6 622.1 L1504.4 622 L1506.3 622.2 L1508.2 622.7 L1510.1 623.3 L1511.9 624.1 L1513.8 625.1 L1515.7 626.1 L1517.5 627.1 L1519.4 628.1 L1521.3 628.8 L1523.2 629.3 L1525 629.6 L1526.9 629.8 L1528.8 630.1 L1530.6 630.4 L1532.5 630.8 L1534.4 631.2 L1536.3 631.7 L1538.1 632.1 L1540 632.2 L1541.9 632.2 L1543.7 632 L1545.6 631.8 L1547.5 631.4 L1549.4 631 L1551.2 630.4 L1553.1 629.8 L1555 629.2 L1556.9 628.5 L1558.7 627.8 L1560.6 627.1 L1562.5 626.4 L1564.3 626 L1566.2 625.9 L1568.1 625.8 L1570 625.9 L1571.8 626.1 L1573.7 626.2 L1575.6 626 L1577.4 625.6 L1579.3 625 L1581.2 624.4 L1583.1 623.7 L1584.9 623.3 L1586.8 623.2 L1588.7 623.2 L1590.5 623.4 L1592.4 623.7 L1594.3 624 L1596.2 624.4 L1598 624.8 L1599.9 625.2 L1601.8 625.7 L1603.7 626.1 L1605.5 626.6 L1607.4 627.3 L1609.3 628.1 L1611.1 629 L1613 629.9 L1614.9 630.9 L1616.8 632 L1618.6 633.1 L1620.5 634.1 L1622.4 634.8 L1624.2 635.4 L1626.1 635.8 L1628 636.1 L1629.9 636.6 L1631.7 637.2 L1633.6 638.1 L1635.5 639 L1637.3 640 L1639.2 641.1 L1641.1 642.2 L1643 643.4 L1644.8 644.6 L1646.7 645.9 L1648.6 647.2 L1650.5 648.3 L1652.3 648.9 L1654.2 649.2 L1656.1 649.1 L1657.9 648.8 L1659.8 647.6 L1661.7 645.6 L1663.6 643.1 L1665.4 640 L1667.3 636.6 L1669.2 633.1 L1671 629.3 L1672.9 625.4 L1674.8 621.3 L1676.7 618.2 L1678.5 616.1 L1680.4 614.7 L1682.3 614.1 L1684.1 615.1 L1686 617.2 L1687.9 620.1 L1689.8 623.5 L1691.6 627.3 L1693.5 631.4 L1695.4 634.3 L1697.3 636.1 L1699.1 637 L1701 637.3 L1702.9 637 L1704.7 636.7 L1706.6 636.9 L1708.5 637.3 L1710.4 638 L1712.2 638.8 L1714.1 639.3 L1716 639.5 L1717.8 639.5 L1719.7 639.3 L1721.6 638.9 L1723.5 638.6 L1725.3 638.5 L1727.2 638.4 L1729.1 638.4" stroke="#ff3300" stroke-width="1.1" fill="none"/><path d="M10.6 638.6 L12.5 640.3 L14.3 642.1 L16.2 643.9 L18.1 645.6 L19.9 647.4 L21.8 649.2 L23.7 651 L25.6 652.7 L27.4 653.9 L29.3 653.6 L31.2 653.3 L33 651.7 L34.9 649.1 L36.8 646.5 L38.7 643.8 L40.5 641.2 L42.4 638.6 L44.3 635.9 L46.1 634.8 L48 636.6 L49.9 638.4 L51.8 640.2 L53.6 644.2 L55.5 648.9 L57.4 653.6 L59.3 658.2 L61.1 662 L63 663.3 L64.9 664.6 L66.7 665.9 L68.6 667.2 L70.5 666 L72.4 664.1 L74.2 662.3 L76.1 660.4 L78 658.5 L79.8 656.3 L81.7 653.5 L83.6 650.7 L85.5 648 L87.3 647.5 L89.2 647.7 L91.1 648 L92.9 648.6 L94.8 650.8 L96.7 653 L98.6 655.2 L100.4 657.4 L102.3 659 L104.2 658.8 L106.1 658.5 L107.9 658.1 L109.8 656.6 L111.7 655 L113.5 653.4 L115.4 651.9 L117.3 650.3 L119.2 648.5 L121 646.7 L122.9 644.8 L124.8 642.9 L126.6 640.9 L128.5 638.9 L130.4 636.9 L132.3 634.9 L134.1 632.9 L136 630.9 L137.9 628.9 L139.7 626.9 L141.6 624.9 L143.5 622.9 L145.4 620.9 L147.2 618.9 L149.1 616.9 L151 616 L152.9 615.8 L154.7 615.5 L156.6 615.2 L158.5 615 L160.3 614.7 L162.2 615.1 L164.1 616.8 L166 618.6 L167.8 620.4 L169.7 622.1 L171.6 623.9 L173.4 625.6 L175.3 627.4 L177.2 629.1 L179.1 630.4 L180.9 631.7 L182.8 633.1 L184.7 634.4 L186.5 635.7 L188.4 637.1 L190.3 637.4 L192.2 637.7 L194 638 L195.9 638.3 L197.8 638.5 L199.7 638.8 L201.5 638.6 L203.4 638.1 L205.3 637.7 L207.1 637.2 L209 636.7 L210.9 635.8 L212.8 633.4 L214.6 631 L216.5 628.6 L218.4 626.2 L220.2 624.3 L222.1 622.7 L224 621 L225.9 619.4 L227.7 617.7 L229.6 616.1 L231.5 614.4 L233.3 614.7 L235.2 616.6 L237.1 618.5 L239 620.3 L240.8 622.2 L242.7 624 L244.6 625.9 L246.5 627.8 L248.3 629.6 L250.2 631.1 L252.1 632.2 L253.9 633.4 L255.8 634.5 L257.7 635.5 L259.6 633.1 L261.4 630.7 L263.3 628.3 L265.2 625.8 L267 623.4 L268.9 621 L270.8 619.3 L272.7 617.9 L274.5 616.4 L276.4 614.9 L278.3 613.5 L280.1 612 L282 610.5 L283.9 609.1 L285.8 609.3 L287.6 610.4 L289.5 611.5 L291.4 612.6 L293.3 613.7 L295.1 613.9 L297 611.7 L298.9 609.5 L300.7 607.4 L302.6 605.2 L304.5 603 L306.4 600.8 L308.2 598.6 L310.1 596.9 L312 597.7 L313.8 598.4 L315.7 599.1 L317.6 599.9 L319.5 600.6 L321.3 601.2 L323.2 601.9 L325.1 602.6 L326.9 603.2 L328.8 603.9 L330.7 604.9 L332.6 606.7 L334.4 608.4 L336.3 610.2 L338.2 612 L340.1 613.8 L341.9 615.6 L343.8 617.3 L345.7 619.1 L347.5 620.7 L349.4 621.6 L351.3 622.5 L353.2 621.3 L355 618.5 L356.9 615.7 L358.8 612.9 L360.6 610.3 L362.5 610.1 L364.4 610 L366.3 609.8 L368.1 609.7 L370 609.5 L371.9 609.3 L373.7 609.2 L375.6 609 L377.5 608.9 L379.4 608.7 L381.2 608.1 L383.1 606.4 L385 604.7 L386.9 603 L388.7 601.3 L390.6 600 L392.5 598.8 L394.3 597.6 L396.2 596.4 L398.1 595.2 L400 594 L401.8 592.8 L403.7 591.6 L405.6 590.4 L407.4 591.9 L409.3 594.3 L411.2 596.6 L413.1 598.8 L414.9 600.4 L416.8 601.9 L418.7 603.5 L420.5 605 L422.4 606.6 L424.3 608.2 L426.2 609.7 L428 611.2 L429.9 611.8 L431.8 612.4 L433.7 612.1 L435.5 610.5 L437.4 608.8 L439.3 607.2 L441.1 607.5 L443 608.3 L444.9 609.1 L446.8 609.9 L448.6 610.7 L450.5 611.3 L452.4 611.7 L454.2 612.1 L456.1 612.5 L458 612.9 L459.9 613.3 L461.7 613.8 L463.6 614.6 L465.5 615.4 L467.3 616.1 L469.2 616.9 L471.1 617.7 L473 620.1 L474.8 623.1 L476.7 626.1 L478.6 629 L480.5 630.6 L482.3 632.3 L484.2 633.9 L486.1 635.6 L487.9 637.2 L489.8 638.8 L491.7 640.5 L493.6 639.6 L495.4 638.4 L497.3 637.3 L499.2 636.2 L501 635.4 L502.9 635.1 L504.8 634.7 L506.7 634.3 L508.5 633.9 L510.4 634.3 L512.3 634.6 L514.1 635 L516 635.4 L517.9 636.5 L519.8 638.5 L521.6 640.6 L523.5 642.6 L525.4 644.7 L527.3 645.3 L529.1 645.9 L531 646.4 L532.9 647 L534.7 646.3 L536.6 644 L538.5 641.8 L540.4 639.5 L542.2 637.3 L544.1 635.2 L546 633.1 L547.8 631.1 L549.7 629 L551.6 626.9 L553.5 624.9 L555.3 622.8 L557.2 620.7 L559.1 619.9 L560.9 619.4 L562.8 618.8 L564.7 618.3 L566.6 618.3 L568.4 619.5 L570.3 620.8 L572.2 622 L574.1 623.2 L575.9 624.4 L577.8 625.6 L579.7 626.8 L581.5 628 L583.4 628.6 L585.3 628.2 L587.2 627.7 L589 627.3 L590.9 626.8 L592.8 626.3 L594.6 625.9 L596.5 625.2 L598.4 623.2 L600.3 621.2 L602.1 619.2 L604 617.2 L605.9 615.2 L607.7 613.2 L609.6 611.2 L611.5 612 L613.4 613 L615.2 613.9 L617.1 614.9 L619 614.1 L620.9 611.3 L622.7 608.6 L624.6 605.8 L626.5 603 L628.3 602.3 L630.2 601.8 L632.1 601.4 L634 600.5 L635.8 598.7 L637.7 596.8 L639.6 594.9 L641.4 593.1 L643.3 592.3 L645.2 591.9 L647.1 591.6 L648.9 591.2 L650.8 591.8 L652.7 595.1 L654.5 598.5 L656.4 601.8 L658.3 605.2 L660.2 608.5 L662 611.9 L663.9 611.1 L665.8 610.1 L667.7 609.2 L669.5 609.5 L671.4 611.7 L673.3 613.9 L675.1 616.2 L677 618.4 L678.9 620.7 L680.8 622.9 L682.6 625.1 L684.5 627.4 L686.4 628.6 L688.2 627.9 L690.1 627.3 L692 626.9 L693.9 626.5 L695.7 626.1 L697.6 625.8 L699.5 625.6 L701.3 626.3 L703.2 627 L705.1 627.6 L707 628.3 L708.8 629 L710.7 629.6 L712.6 629.1 L714.5 628.5 L716.3 627.9 L718.2 627.2 L720.1 626.6 L721.9 626.8 L723.8 627.9 L725.7 628.9 L727.6 630 L729.4 631 L731.3 632.1 L733.2 633.2 L735 633.7 L736.9 632.9 L738.8 632.2 L740.7 631.4 L742.5 630.6 L744.4 629.9 L746.3 629.1 L748.1 628.4 L750 627.6 L751.9 627.6 L753.8 629.1 L755.6 630.6 L757.5 632.1 L759.4 633.6 L761.3 637.6 L763.1 642.1 L765 646.6 L766.9 651.1 L768.7 654.7 L770.6 656.6 L772.5 658.5 L774.4 660.4 L776.2 662.2 L778.1 664.1 L780 663.3 L781.8 662.3 L783.7 661.7 L785.6 662.4 L787.5 663 L789.3 663.6 L791.2 664.3 L793.1 664.9 L794.9 665.9 L796.8 667 L798.7 668.1 L800.6 669.2 L802.4 670.3 L804.3 670.3 L806.2 668.9 L808.1 667.5 L809.9 666.1 L811.8 663 L813.7 659.5 L815.5 656.1 L817.4 652.6 L819.3 649.2 L821.2 646.7 L823 645.5 L824.9 644.3 L826.8 646.4 L828.6 649.6 L830.5 649.9 L832.4 649.9 L834.3 649.9 L836.1 649.9 L838 649.4 L839.9 648.3 L841.7 647.1 L843.6 645.9 L845.5 644.8 L847.4 643.6 L849.2 642.5 L851.1 641.3 L853 639.9 L854.9 638 L856.7 636.2 L858.6 634.3 L860.5 632.4 L862.3 632.1 L864.2 632.1 L866.1 632 L868 631.9 L869.8 631.8 L871.7 631.7 L873.6 631.7 L875.4 631.6 L877.3 631.5 L879.2 631.4 L881.1 631.4 L882.9 631.4 L884.8 632 L886.7 632.7 L888.5 633.3 L890.4 633.9 L892.3 634.6 L894.2 635.3 L896 636.1 L897.9 636.8 L899.8 637.6 L901.7 639 L903.5 641.9 L905.4 644.9 L907.3 647.9 L909.1 650.8 L911 653.8 L912.9 653.2 L914.8 652.3 L916.6 650.8 L918.5 646.8 L920.4 642.8 L922.2 638.8 L924.1 634.8 L926 630.8 L927.9 626.8 L929.7 626.4 L931.6 626.5 L933.5 626.7 L935.3 626.8 L937.2 626.9 L939.1 627 L941 627 L942.8 626.7 L944.7 626.4 L946.6 626.1 L948.5 625.8 L950.3 625.4 L952.2 624 L954.1 622.6 L955.9 621.1 L957.8 620.1 L959.7 619.4 L961.6 618.8 L963.4 618.1 L965.3 617.4 L967.2 620.2 L969 623.1 L970.9 626 L972.8 628.9 L974.7 631.5 L976.5 633.5 L978.4 635.6 L980.3 637.7 L982.1 639.7 L984 639.3 L985.9 638.8 L987.8 638.4 L989.6 637.9 L991.5 637.4 L993.4 637.9 L995.3 639 L997.1 640.1 L999 641.3 L1000.9 642.4 L1002.7 643.6 L1004.6 644.8 L1006.5 646 L1008.4 647.2 L1010.2 648.4 L1012.1 649.6 L1014 648.9 L1015.8 647.6 L1017.7 646.2 L1019.6 644.9 L1021.5 644.3 L1023.3 645.4 L1025.2 646.6 L1027.1 647.7 L1028.9 648.8 L1030.8 647.4 L1032.7 645.3 L1034.6 643.3 L1036.4 641.3 L1038.3 639.3 L1040.2 638.3 L1042.1 638.6 L1043.9 639 L1045.8 639.4 L1047.7 639.8 L1049.5 639.2 L1051.4 638.6 L1053.3 638 L1055.2 637.3 L1057 636.7 L1058.9 636.1 L1060.8 635.4 L1062.6 634.8 L1064.5 634.4 L1066.4 634.1 L1068.3 633.8 L1070.1 633.5 L1072 633.2 L1073.9 632.9 L1075.7 632.6 L1077.6 632.3 L1079.5 631.5 L1081.4 630.6 L1083.2 629.7 L1085.1 628.7 L1087 627.8 L1088.9 626.8 L1090.7 625.9 L1092.6 625 L1094.5 625.2 L1096.3 626.1 L1098.2 627 L1100.1 626.3 L1102 625.3 L1103.8 624.4 L1105.7 623.5 L1107.6 622.6 L1109.4 622.7 L1111.3 623.7 L1113.2 624.8 L1115.1 625.9 L1116.9 627 L1118.8 628.1 L1120.7 629.5 L1122.5 630.8 L1124.4 632.1 L1126.3 633.4 L1128.2 633.2 L1130 632.2 L1131.9 631.1 L1133.8 630 L1135.7 628.9 L1137.5 627.8 L1139.4 627.5 L1141.3 628.9 L1143.1 630.3 L1145 631.6 L1146.9 633 L1148.8 634.4 L1150.6 635.7 L1152.5 637.1 L1154.4 638 L1156.2 637.5 L1158.1 636.9 L1160 636.4 L1161.9 635.9 L1163.7 635.4 L1165.6 634.9 L1167.5 634.3 L1169.3 633.8 L1171.2 633.1 L1173.1 632.4 L1175 631.6 L1176.8 632.1 L1178.7 633.5 L1180.6 634.9 L1182.5 636.3 L1184.3 637.7 L1186.2 638.7 L1188.1 637.7 L1189.9 636.6 L1191.8 635.5 L1193.7 634.4 L1195.6 633.3 L1197.4 632.3 L1199.3 631.2 L1201.2 630.3 L1203 631.4 L1204.9 632.4 L1206.8 633.5 L1208.7 634.6 L1210.5 635.7 L1212.4 636.7 L1214.3 637.8 L1216.1 638.9 L1218 638.3 L1219.9 637.6 L1221.8 636.9 L1223.6 636.3 L1225.5 635.6 L1227.4 635 L1229.3 634.3 L1231.1 633.7 L1233 633 L1234.9 633.2 L1236.7 633.5 L1238.6 633.7 L1240.5 634.2 L1242.4 635.1 L1244.2 636 L1246.1 637 L1248 637.9 L1249.8 638.8 L1251.7 638.5 L1253.6 638.1 L1255.5 637.7 L1257.3 637.3 L1259.2 636.8 L1261.1 636.4 L1262.9 636 L1264.8 635.6 L1266.7 635.1 L1268.6 634.7 L1270.4 634.8 L1272.3 634.8 L1274.2 634.9 L1276.1 634.9 L1277.9 635 L1279.8 635.1 L1281.7 635.1 L1283.5 635.2 L1285.4 635.3 L1287.3 635.3 L1289.2 635.4 L1291 635.4 L1292.9 635.5 L1294.8 635.6 L1296.6 634.5 L1298.5 632.7 L1300.4 630.8 L1302.3 628.9 L1304.1 627 L1306 625.1 L1307.9 623.2 L1309.7 622.2 L1311.6 622.5 L1313.5 622.8 L1315.4 623.9 L1317.2 625.3 L1319.1 626.7 L1321 627.8 L1322.9 625.7 L1324.7 623.5 L1326.6 621.4 L1328.5 620.2 L1330.3 619.7 L1332.2 619.2 L1334.1 618.8 L1336 620 L1337.8 621.5 L1339.7 622.9 L1341.6 624.4 L1343.4 625.8 L1345.3 627.3 L1347.2 628.8 L1349.1 630.2 L1350.9 631.2 L1352.8 631.9 L1354.7 632.7 L1356.5 633.5 L1358.4 634.3 L1360.3 635.1 L1362.2 635.9 L1364 636.7 L1365.9 637.5 L1367.8 638.3 L1369.7 639.1 L1371.5 639.9 L1373.4 640.4 L1375.3 641 L1377.1 641.5 L1379 642.1 L1380.9 641.6 L1382.8 640.6 L1384.6 639.5 L1386.5 638.5 L1388.4 637.4 L1390.2 636.4 L1392.1 635.3 L1394 635 L1395.9 635.7 L1397.7 636.4 L1399.6 637.1 L1401.5 637.8 L1403.3 638.5 L1405.2 639.2 L1407.1 639.9 L1409 640.5 L1410.8 641.2 L1412.7 641.8 L1414.6 642.4 L1416.5 643 L1418.3 643.6 L1420.2 644.3 L1422.1 644.7 L1423.9 643.9 L1425.8 643 L1427.7 642.2 L1429.6 641.4 L1431.4 640.6 L1433.3 639.8 L1435.2 639 L1437 638.6 L1438.9 638.3 L1440.8 638 L1442.7 637.7 L1444.5 637.3 L1446.4 637.6 L1448.3 638.3 L1450.1 639 L1452 639.7 L1453.9 640.4 L1455.8 641.1 L1457.6 641.8 L1459.5 642.1 L1461.4 641.5 L1463.3 640.9 L1465.1 640.3 L1467 639.8 L1468.9 639.2 L1470.7 638.6 L1472.6 637.7 L1474.5 635.5 L1476.4 633.3 L1478.2 631.1 L1480.1 628.9 L1482 626.6 L1483.8 624.4 L1485.7 622.2 L1487.6 621.9 L1489.5 621.7 L1491.3 621.5 L1493.2 621.4 L1495.1 621.2 L1496.9 621 L1498.8 620.8 L1500.7 620.6 L1502.6 620.4 L1504.4 621.8 L1506.3 623.2 L1508.2 624.5 L1510.1 625.9 L1511.9 627.3 L1513.8 628.7 L1515.7 630.1 L1517.5 631.5 L1519.4 632 L1521.3 631.6 L1523.2 631.3 L1525 630.9 L1526.9 630.5 L1528.8 631.1 L1530.6 631.8 L1532.5 632.4 L1534.4 633 L1536.3 633.7 L1538.1 633.5 L1540 632.8 L1541.9 632.1 L1543.7 631.4 L1545.6 630.7 L1547.5 630 L1549.4 629.1 L1551.2 628.3 L1553.1 627.4 L1555 626.5 L1556.9 625.7 L1558.7 625 L1560.6 624.4 L1562.5 623.9 L1564.3 624.5 L1566.2 625.1 L1568.1 625.7 L1570 626.3 L1571.8 626.9 L1573.7 626.3 L1575.6 625.2 L1577.4 624 L1579.3 622.9 L1581.2 621.7 L1583.1 621.1 L1584.9 621.8 L1586.8 622.6 L1588.7 623.3 L1590.5 624 L1592.4 624.8 L1594.3 625.5 L1596.2 626 L1598 626.4 L1599.9 626.9 L1601.8 627.4 L1603.7 627.8 L1605.5 628.8 L1607.4 630 L1609.3 631.3 L1611.1 632.5 L1613 633.8 L1614.9 635 L1616.8 636.3 L1618.6 637.5 L1620.5 638 L1622.4 637.8 L1624.2 637.6 L1626.1 637.4 L1628 637.2 L1629.9 638.6 L1631.7 639.9 L1633.6 641.3 L1635.5 642.7 L1637.3 644.1 L1639.2 645.4 L1641.1 646.8 L1643 648.2 L1644.8 649.6 L1646.7 650.9 L1648.6 652.3 L1650.5 652.7 L1652.3 651.4 L1654.2 650.1 L1656.1 648.8 L1657.9 647.5 L1659.8 642.9 L1661.7 637.8 L1663.6 632.7 L1665.4 627.8 L1667.3 623.2 L1669.2 618.7 L1671 614.2 L1672.9 609.7 L1674.8 605.2 L1676.7 605.8 L1678.5 607.4 L1680.4 609.1 L1682.3 612 L1684.1 618.8 L1686 625.6 L1687.9 631.7 L1689.8 637.1 L1691.6 642.5 L1693.5 647.9 L1695.4 645.8 L1697.3 643.3 L1699.1 640.8 L1701 638.3 L1702.9 635.8 L1704.7 635.6 L1706.6 637.3 L1708.5 639 L1710.4 640.7 L1712.2 642.2 L1714.1 641.3 L1716 640.3 L1717.8 639.4 L1719.7 638.5 L1721.6 637.5 L1723.5 637.4 L1725.3 637.8 L1727.2 638.2 L1729.1 638.5" stroke="#2aa4ff" stroke-width="1.1" fill="none"/><rect x="1865.5" y="562.5" width="15" height="15" rx="2" fill="#c9d0ea" stroke="#8a97c4" stroke-width="1"/><rect x="1866.5" y="564.5" width="1.6" height="11" fill="#48529a"/><rect x="1878" y="564.5" width="1.6" height="11" fill="#48529a"/><rect x="1868.2" y="565" width="9.8" height="9.5" fill="#fff"/><path d="M1868 565.5H1878M1868 574.5H1878" stroke="#5a5a5a" stroke-width="1"/><rect x="1870.5" y="568.5" width="5" height="3" fill="#7a88c8" stroke="#555" stroke-width="1"/><rect x="1883.5" y="562.5" width="15" height="15" rx="2" fill="#eec4b0" stroke="#6e2444" stroke-width="1.4"/><path d="M1886.5 566L1895.5 575M1895.5 566L1886.5 575" stroke="#7a7a80" stroke-width="4"/><path d="M1886.5 566L1895.5 575M1895.5 566L1886.5 575" stroke="#fff" stroke-width="2.4"/><text x="1826" y="596.5" font-size="16" fill="#000" font-weight="bold" textLength="45" lengthAdjust="spacingAndGlyphs">Value</text><text x="1826" y="619" font-size="16" fill="#000" font-weight="bold">USD</text><rect x="1827.5" y="662" width="42" height="17.5" fill="#fff" stroke="#000" stroke-width="1"/><text x="1830" y="676.5" font-size="17" fill="#000" font-weight="bold">Auto</text><rect x="1819.5" y="629.2" width="82" height="20.6" fill="#1e9bff"/><text x="1821" y="645.5" font-size="17" fill="#000" font-weight="bold" textLength="63" lengthAdjust="spacingAndGlyphs">-0.0028</text><rect x="1819.5" y="649.8" width="82" height="19.5" fill="#ff3300"/><text x="1820.5" y="666" font-size="17" fill="#000" textLength="58" lengthAdjust="spacingAndGlyphs">-0.0029</text><text x="18.8" y="699.5" font-size="17" fill="#ff2222" xml:space="preserve" textLength="476.8" lengthAdjust="spacingAndGlyphs">RSI, EUR=, Bid(Last),  14, Wilder Smoothing, 4/20/2020, 46.325</text><path d="M10 744.5H1819M10 787.5H1819" stroke="#404040" stroke-width="1.6"/><path d="M10.6 786.1 L12.5 782.5 L14.3 783.9 L16.2 782.8 L18.1 784.5 L19.9 785.6 L21.8 787.7 L23.7 787.3 L25.6 791.3 L27.4 785.9 L29.3 787.2 L31.2 777.8 L33 775.5 L34.9 764.4 L36.8 767.3 L38.7 757.3 L40.5 759 L42.4 754.3 L44.3 761.2 L46.1 767.3 L48 777.7 L49.9 781.6 L51.8 785.9 L53.6 789.8 L55.5 794.5 L57.4 793.3 L59.3 798.6 L61.1 795.8 L63 795.3 L64.9 790.9 L66.7 796.8 L68.6 792.5 L70.5 790 L72.4 781.2 L74.2 785.2 L76.1 785.3 L78 779.3 L79.8 770.9 L81.7 767.2 L83.6 765.9 L85.5 770.2 L87.3 774.4 L89.2 782.7 L91.1 774.6 L92.9 777.8 L94.8 778.3 L96.7 785.2 L98.6 783.4 L100.4 787 L102.3 783.7 L104.2 780.9 L106.1 779.5 L107.9 779.8 L109.8 778 L111.7 780.5 L113.5 777 L115.4 772.8 L117.3 772.6 L119.2 778.1 L121 775.5 L122.9 771.4 L124.8 761.9 L126.6 765.4 L128.5 765.5 L130.4 767.3 L132.3 760.8 L134.1 763.2 L136 759.5 L137.9 756.4 L139.7 753 L141.6 761.5 L143.5 757.8 L145.4 759.1 L147.2 752.6 L149.1 755.7 L151 755.3 L152.9 761.5 L154.7 758 L156.6 758.4 L158.5 753.9 L160.3 755.5 L162.2 754 L164.1 754.3 L166 756.3 L167.8 763.8 L169.7 766 L171.6 769.8 L173.4 769.6 L175.3 775.3 L177.2 775.5 L179.1 772.3 L180.9 762.5 L182.8 769 L184.7 771.6 L186.5 780 L188.4 773.7 L190.3 776.4 L192.2 769.5 L194 773.6 L195.9 770.7 L197.8 776.5 L199.7 773.6 L201.5 770.6 L203.4 764.3 L205.3 771.7 L207.1 769.2 L209 766.2 L210.9 760 L212.8 762.7 L214.6 764.8 L216.5 759.2 L218.4 753.9 L220.2 754 L222.1 752.6 L224 753 L225.9 750.7 L227.7 751.4 L229.6 748 L231.5 750.3 L233.3 753.8 L235.2 762.7 L237.1 767.4 L239 771.3 L240.8 768.8 L242.7 768.9 L244.6 771.7 L246.5 778.8 L248.3 776.6 L250.2 776 L252.1 769.8 L253.9 769.3 L255.8 770 L257.7 775 L259.6 766.1 L261.4 761.6 L263.3 758.6 L265.2 761.5 L267 755.7 L268.9 746.1 L270.8 747.3 L272.7 748.2 L274.5 749 L276.4 753.5 L278.3 748.3 L280.1 750 L282 751.2 L283.9 750.4 L285.8 747.2 L287.6 758.1 L289.5 760.2 L291.4 763 L293.3 760.5 L295.1 759.5 L297 749.2 L298.9 746.5 L300.7 742 L302.6 747.1 L304.5 741.7 L306.4 745.5 L308.2 747.1 L310.1 748.3 L312 748.7 L313.8 752.4 L315.7 749.6 L317.6 754.3 L319.5 747.4 L321.3 749 L323.2 745.3 L325.1 747.9 L326.9 747.6 L328.8 755.5 L330.7 754.4 L332.6 759.6 L334.4 755.5 L336.3 757 L338.2 759.3 L340.1 766.7 L341.9 766.4 L343.8 769.9 L345.7 766.1 L347.5 764.8 L349.4 763.2 L351.3 766.4 L353.2 758.6 L355 756.3 L356.9 747.2 L358.8 744.1 L360.6 744.9 L362.5 754.3 L364.4 754 L366.3 752.8 L368.1 751.8 L370 750.1 L371.9 750.8 L373.7 749.6 L375.6 750.6 L377.5 757.6 L379.4 751.1 L381.2 752.3 L383.1 746.6 L385 745 L386.9 742.8 L388.7 743.9 L390.6 741 L392.5 743.3 L394.3 739.8 L396.2 745.3 L398.1 741.7 L400 740.3 L401.8 738.8 L403.7 741.9 L405.6 741.1 L407.4 747.8 L409.3 750.8 L411.2 757.1 L413.1 754.3 L414.9 755.2 L416.8 749.9 L418.7 754.6 L420.5 754.7 L422.4 760.3 L424.3 759.1 L426.2 756.6 L428 753.9 L429.9 756.8 L431.8 755.6 L433.7 757.6 L435.5 754 L437.4 746.8 L439.3 746.8 L441.1 755.6 L443 756.3 L444.9 761.8 L446.8 756 L448.6 754.5 L450.5 749.7 L452.4 752.6 L454.2 753.5 L456.1 761.4 L458 762.1 L459.9 762.9 L461.7 758.9 L463.6 761.9 L465.5 756.6 L467.3 757.2 L469.2 759.8 L471.1 764.4 L473 762.8 L474.8 768.4 L476.7 772.5 L478.6 776.6 L480.5 772.8 L482.3 772.9 L484.2 774.1 L486.1 780.8 L487.9 774.8 L489.8 778 L491.7 773.6 L493.6 773.8 L495.4 764.2 L497.3 763 L499.2 764.7 L501 769.3 L502.9 764.4 L504.8 773.7 L506.7 768.5 L508.5 764.1 L510.4 764 L512.3 772.3 L514.1 766.1 L516 766.7 L517.9 776.1 L519.8 782.9 L521.6 777.1 L523.5 779.5 L525.4 774.8 L527.3 776.1 L529.1 776.3 L531 778.9 L532.9 777.5 L534.7 776.2 L536.6 771.8 L538.5 770.3 L540.4 764.5 L542.2 759.7 L544.1 756.5 L546 756.9 L547.8 759.7 L549.7 766.5 L551.6 760.6 L553.5 757.1 L555.3 752.1 L557.2 749.8 L559.1 748.9 L560.9 757.4 L562.8 756.6 L564.7 757.9 L566.6 755 L568.4 760.5 L570.3 759.3 L572.2 767.4 L574.1 765.8 L575.9 773.8 L577.8 771.9 L579.7 772.5 L581.5 762.5 L583.4 767.4 L585.3 768.3 L587.2 769.2 L589 762.7 L590.9 761.8 L592.8 755.3 L594.6 758.3 L596.5 758.1 L598.4 760.8 L600.3 755.9 L602.1 756.4 L604 747.5 L605.9 747.3 L607.7 741.9 L609.6 746.7 L611.5 748.6 L613.4 757.1 L615.2 756.9 L617.1 763.6 L619 760.8 L620.9 759.2 L622.7 750.3 L624.6 744 L626.5 741.2 L628.3 745.5 L630.2 744 L632.1 752 L634 744.7 L635.8 745.1 L637.7 740.4 L639.6 740.2 L641.4 740.8 L643.3 744.6 L645.2 740.3 L647.1 741.9 L648.9 738.7 L650.8 748 L652.7 752 L654.5 761.1 L656.4 761.8 L658.3 769.6 L660.2 762.5 L662 759.9 L663.9 754.4 L665.8 754 L667.7 745.6 L669.5 754.6 L671.4 755.9 L673.3 761.8 L675.1 766.8 L677 769.2 L678.9 770 L680.8 773 L682.6 773.8 L684.5 774.8 L686.4 767.3 L688.2 768.2 L690.1 761.3 L692 758.9 L693.9 757.3 L695.7 764.3 L697.6 766.3 L699.5 763.7 L701.3 759.9 L703.2 763.9 L705.1 763.7 L707 770.1 L708.8 773.2 L710.7 770.4 L712.6 768.4 L714.5 765.6 L716.3 760.1 L718.2 759.2 L720.1 758.9 L721.9 767.8 L723.8 768 L725.7 772.7 L727.6 772.2 L729.4 773.8 L731.3 771.6 L733.2 776.5 L735 769.8 L736.9 770.4 L738.8 762.8 L740.7 764.8 L742.5 763.5 L744.4 767.9 L746.3 761 L748.1 761 L750 760.5 L751.9 764.6 L753.8 769.6 L755.6 776.4 L757.5 777.5 L759.4 781.7 L761.3 781.4 L763.1 782.3 L765 787.7 L766.9 790.4 L768.7 788.2 L770.6 794.7 L772.5 792.2 L774.4 796 L776.2 793.7 L778.1 797 L780 787.5 L781.8 784.8 L783.7 782.2 L785.6 789.9 L787.5 790.6 L789.3 793.7 L791.2 790 L793.1 796.5 L794.9 793.5 L796.8 795.7 L798.7 792 L800.6 797.5 L802.4 799.8 L804.3 798.6 L806.2 782.4 L808.1 779.6 L809.9 775.1 L811.8 776.8 L813.7 772.3 L815.5 770.5 L817.4 766.2 L819.3 769.1 L821.2 768.2 L823 768.6 L824.9 770.2 L826.8 780.5 L828.6 781.5 L830.5 784 L832.4 781.1 L834.3 782.5 L836.1 776.1 L838 773.9 L839.9 768.5 L841.7 774.8 L843.6 776.3 L845.5 775.3 L847.4 766.8 L849.2 767.6 L851.1 764.2 L853 761.8 L854.9 762.8 L856.7 762.8 L858.6 762.1 L860.5 768.8 L862.3 766.6 L864.2 771.2 L866.1 765 L868 768.5 L869.8 766.7 L871.7 773.2 L873.6 769.6 L875.4 764.4 L877.3 761.7 L879.2 763.7 L881.1 760.3 L882.9 768 L884.8 766.4 L886.7 766.8 L888.5 763.6 L890.4 772.2 L892.3 771.5 L894.2 780.3 L896 776.3 L897.9 775 L899.8 771.4 L901.7 780.5 L903.5 785.5 L905.4 789 L907.3 789.8 L909.1 793.2 L911 785.7 L912.9 782.8 L914.8 772.2 L916.6 768.2 L918.5 760.9 L920.4 760.8 L922.2 758.2 L924.1 760.2 L926 753.8 L927.9 753.7 L929.7 754.1 L931.6 759 L933.5 761 L935.3 767.7 L937.2 766.3 L939.1 770.7 L941 768 L942.8 768.3 L944.7 762.2 L946.6 761.8 L948.5 757.7 L950.3 759.1 L952.2 757.5 L954.1 761.2 L955.9 754 L957.8 754.4 L959.7 753.2 L961.6 754.9 L963.4 753.6 L965.3 761.9 L967.2 768.1 L969 774.8 L970.9 776 L972.8 779 L974.7 779.5 L976.5 778.7 L978.4 774.2 L980.3 778.8 L982.1 779.2 L984 775.7 L985.9 767.1 L987.8 767.6 L989.6 766.6 L991.5 771.4 L993.4 772.3 L995.3 780.2 L997.1 771.6 L999 776.9 L1000.9 775.2 L1002.7 782.2 L1004.6 784.2 L1006.5 787 L1008.4 784.3 L1010.2 789.3 L1012.1 785.6 L1014 777.2 L1015.8 772.1 L1017.7 773 L1019.6 770.9 L1021.5 771.1 L1023.3 777.3 L1025.2 783.2 L1027.1 784.8 L1028.9 785.6 L1030.8 774.9 L1032.7 775 L1034.6 764.2 L1036.4 763.3 L1038.3 763.3 L1040.2 768.4 L1042.1 768.5 L1043.9 772.9 L1045.8 773.2 L1047.7 777.5 L1049.5 770 L1051.4 768.6 L1053.3 770 L1055.2 772.8 L1057 768.7 L1058.9 768.7 L1060.8 766.1 L1062.6 771.9 L1064.5 770.9 L1066.4 773.8 L1068.3 765.6 L1070.1 769.3 L1072 771.6 L1073.9 771.6 L1075.7 765.6 L1077.6 762.9 L1079.5 755.8 L1081.4 764.5 L1083.2 763.4 L1085.1 767.3 L1087 767.5 L1088.9 765.1 L1090.7 758.4 L1092.6 756.7 L1094.5 759.4 L1096.3 771.9 L1098.2 767.4 L1100.1 767.5 L1102 764.8 L1103.8 763.6 L1105.7 755.1 L1107.6 760 L1109.4 757.6 L1111.3 763.4 L1113.2 764.6 L1115.1 769.2 L1116.9 767.5 L1118.8 772.7 L1120.7 772.2 L1122.5 776.1 L1124.4 775.2 L1126.3 777.4 L1128.2 765.5 L1130 764.2 L1131.9 760.5 L1133.8 760.9 L1135.7 758.1 L1137.5 761.2 L1139.4 760 L1141.3 767.7 L1143.1 769.4 L1145 775 L1146.9 775.9 L1148.8 782.3 L1150.6 775.2 L1152.5 778 L1154.4 770.6 L1156.2 773.2 L1158.1 769.7 L1160 768.4 L1161.9 767.5 L1163.7 768.4 L1165.6 767.6 L1167.5 767 L1169.3 763.4 L1171.2 762.2 L1173.1 760.3 L1175 766.2 L1176.8 766.4 L1178.7 774.9 L1180.6 778.5 L1182.5 788.1 L1184.3 781.8 L1186.2 775.9 L1188.1 769.6 L1189.9 770.4 L1191.8 763.9 L1193.7 769 L1195.6 761.8 L1197.4 759.5 L1199.3 754.7 L1201.2 761.3 L1203 763.6 L1204.9 770.1 L1206.8 773.6 L1208.7 779.5 L1210.5 777.4 L1212.4 783.2 L1214.3 781.8 L1216.1 784.3 L1218 776.8 L1219.9 778.1 L1221.8 772.6 L1223.6 772.9 L1225.5 767.8 L1227.4 767.1 L1229.3 763.7 L1231.1 765.2 L1233 761.5 L1234.9 766.8 L1236.7 769.7 L1238.6 774.8 L1240.5 774.9 L1242.4 780.2 L1244.2 779.8 L1246.1 782.4 L1248 782.2 L1249.8 778.8 L1251.7 774 L1253.6 771.5 L1255.5 769.7 L1257.3 777.2 L1259.2 773.8 L1261.1 771.2 L1262.9 769 L1264.8 773.6 L1266.7 765.8 L1268.6 767.5 L1270.4 766.6 L1272.3 772.3 L1274.2 771.5 L1276.1 778.1 L1277.9 778.2 L1279.8 776.8 L1281.7 776.2 L1283.5 777.4 L1285.4 773.3 L1287.3 767.5 L1289.2 765.7 L1291 769.5 L1292.9 776.5 L1294.8 776.4 L1296.6 763.8 L1298.5 758.5 L1300.4 757.5 L1302.3 758.9 L1304.1 755.7 L1306 753.9 L1307.9 747.9 L1309.7 752.6 L1311.6 755.1 L1313.5 766.9 L1315.4 769.7 L1317.2 771.8 L1319.1 769.8 L1321 768.9 L1322.9 761.1 L1324.7 754.4 L1326.6 749.7 L1328.5 753.7 L1330.3 751.1 L1332.2 754.9 L1334.1 752.7 L1336 763.1 L1337.8 763.9 L1339.7 767.6 L1341.6 767.3 L1343.4 775.5 L1345.3 776.2 L1347.2 777.3 L1349.1 767.4 L1350.9 769.6 L1352.8 765.8 L1354.7 768.4 L1356.5 771.5 L1358.4 771.2 L1360.3 762.7 L1362.2 769.7 L1364 773.4 L1365.9 779.9 L1367.8 779.4 L1369.7 781.5 L1371.5 777.9 L1373.4 780.3 L1375.3 779.5 L1377.1 789.5 L1379 778.9 L1380.9 774 L1382.8 766.3 L1384.6 767.2 L1386.5 767.9 L1388.4 768.2 L1390.2 764 L1392.1 765.7 L1394 767.3 L1395.9 773.6 L1397.7 775.9 L1399.6 780.9 L1401.5 780.4 L1403.3 781.1 L1405.2 775.4 L1407.1 773.5 L1409 766 L1410.8 772.6 L1412.7 774.8 L1414.6 778.2 L1416.5 777.9 L1418.3 785.7 L1420.2 785 L1422.1 781.2 L1423.9 773.9 L1425.8 776.5 L1427.7 773.4 L1429.6 773.9 L1431.4 773.5 L1433.3 779.8 L1435.2 769.7 L1437 765.9 L1438.9 773.7 L1440.8 769.5 L1442.7 767.2 L1444.5 770.4 L1446.4 769 L1448.3 772.4 L1450.1 772.2 L1452 779.8 L1453.9 776.6 L1455.8 782.2 L1457.6 779.1 L1459.5 777.1 L1461.4 774 L1463.3 776.5 L1465.1 770.9 L1467 771.5 L1468.9 768.9 L1470.7 771.9 L1472.6 763.8 L1474.5 760.5 L1476.4 759.9 L1478.2 759.7 L1480.1 754.8 L1482 751 L1483.8 744.9 L1485.7 750 L1487.6 753.3 L1489.5 758.4 L1491.3 757.3 L1493.2 761.8 L1495.1 764.2 L1496.9 767.2 L1498.8 762.9 L1500.7 765.8 L1502.6 766 L1504.4 767.5 L1506.3 765.4 L1508.2 769.3 L1510.1 771.8 L1511.9 774.3 L1513.8 773.9 L1515.7 778.9 L1517.5 771.5 L1519.4 772.1 L1521.3 768.6 L1523.2 766.2 L1525 763 L1526.9 769 L1528.8 767.5 L1530.6 772.2 L1532.5 774.2 L1534.4 778.9 L1536.3 774.6 L1538.1 776.9 L1540 773.3 L1541.9 762.3 L1543.7 755 L1545.6 758.7 L1547.5 756.1 L1549.4 765.5 L1551.2 762.1 L1553.1 759.3 L1555 752.8 L1556.9 756.3 L1558.7 750.7 L1560.6 752.5 L1562.5 749.9 L1564.3 758.1 L1566.2 761.5 L1568.1 768.4 L1570 764.7 L1571.8 766.2 L1573.7 763.1 L1575.6 761.7 L1577.4 752.2 L1579.3 752.4 L1581.2 743.8 L1583.1 752.9 L1584.9 752.4 L1586.8 757.1 L1588.7 753 L1590.5 763.9 L1592.4 769.1 L1594.3 771 L1596.2 765 L1598 765.7 L1599.9 763 L1601.8 763.4 L1603.7 766.9 L1605.5 772.7 L1607.4 771.5 L1609.3 773.6 L1611.1 773.1 L1613 780.7 L1614.9 780.4 L1616.8 786.2 L1618.6 781.6 L1620.5 785.1 L1622.4 777.6 L1624.2 768.5 L1626.1 767.7 L1628 773.8 L1629.9 774.7 L1631.7 784.3 L1633.6 783 L1635.5 790.1 L1637.3 790.1 L1639.2 793.6 L1641.1 792.9 L1643 798.5 L1644.8 794.6 L1646.7 798.4 L1648.6 794.3 L1650.5 791 L1652.3 780.1 L1654.2 779.4 L1656.1 776.5 L1657.9 775 L1659.8 760.3 L1661.7 753.2 L1663.6 745.7 L1665.4 744.3 L1667.3 744.8 L1669.2 744 L1671 735.5 L1672.9 737.4 L1674.8 743.9 L1676.7 753.1 L1678.5 755.3 L1680.4 763.7 L1682.3 766.2 L1684.1 773.9 L1686 777.3 L1687.9 786.3 L1689.8 781.1 L1691.6 784.2 L1693.5 776.6 L1695.4 769.7 L1697.3 760.8 L1699.1 760.3 L1701 761.3 L1702.9 767.6 L1704.7 768.7 L1706.6 773.8 L1708.5 774.1 L1710.4 775.7 L1712.2 771.8 L1714.1 769.9 L1716 768.2 L1717.8 768.9 L1719.7 765.5 L1721.6 767.5 L1723.5 767.2 L1725.3 775.1 L1727.2 769.4 L1729.1 771.3" stroke="#ff0000" stroke-width="1.1" fill="none"/><rect x="1865.5" y="683.5" width="15" height="15" rx="2" fill="#c9d0ea" stroke="#8a97c4" stroke-width="1"/><rect x="1866.5" y="685.5" width="1.6" height="11" fill="#48529a"/><rect x="1878" y="685.5" width="1.6" height="11" fill="#48529a"/><rect x="1868.2" y="686" width="9.8" height="9.5" fill="#fff"/><path d="M1868 686.5H1878M1868 695.5H1878" stroke="#5a5a5a" stroke-width="1"/><rect x="1870.5" y="689.5" width="5" height="3" fill="#7a88c8" stroke="#555" stroke-width="1"/><rect x="1883.5" y="683.5" width="15" height="15" rx="2" fill="#eec4b0" stroke="#6e2444" stroke-width="1.4"/><path d="M1886.5 687L1895.5 696M1895.5 687L1886.5 696" stroke="#7a7a80" stroke-width="4"/><path d="M1886.5 687L1895.5 696M1895.5 687L1886.5 696" stroke="#fff" stroke-width="2.4"/><text x="1826" y="717.5" font-size="16" fill="#000" font-weight="bold" textLength="45" lengthAdjust="spacingAndGlyphs">Value</text><text x="1826" y="740.5" font-size="16" fill="#000" font-weight="bold">USD</text><text x="1830.5" y="783.5" font-size="16.5" fill="#000" textLength="16" lengthAdjust="spacingAndGlyphs">40</text><rect x="1819.5" y="759.8" width="82" height="20.1" fill="#ff0000"/><text x="1820.3" y="777" font-size="17" fill="#000" font-weight="bold" textLength="58" lengthAdjust="spacingAndGlyphs">46.325</text><path d="M1819.5 820.5H1827" stroke="#000" stroke-width="1.2"/><rect x="1827.5" y="810.5" width="42" height="19.3" fill="#fff" stroke="#000" stroke-width="1"/><text x="1830" y="827" font-size="17" fill="#000" font-weight="bold">Auto</text><path d="M37.5 833V837" stroke="#333" stroke-width="1.3"/><text x="36.8" y="859" font-size="24.5" fill="#000" text-anchor="middle">N</text><path d="M78.5 833V837" stroke="#333" stroke-width="1.3"/><text x="78" y="859" font-size="24.5" fill="#000" text-anchor="middle">D</text><path d="M119.5 833V837" stroke="#333" stroke-width="1.3"/><text x="119.2" y="859" font-size="24.5" fill="#000" text-anchor="middle">J</text><path d="M160.5 833V837" stroke="#333" stroke-width="1.3"/><text x="160.3" y="859" font-size="24.5" fill="#000" text-anchor="middle">F</text><path d="M198.5 833V837" stroke="#333" stroke-width="1.3"/><text x="197.8" y="859" font-size="24.5" fill="#000" text-anchor="middle">M</text><path d="M241.5 833V837" stroke="#333" stroke-width="1.3"/><text x="240.8" y="859" font-size="24.5" fill="#000" text-anchor="middle">A</text><path d="M278.5 833V837" stroke="#333" stroke-width="1.3"/><text x="278.3" y="859" font-size="24.5" fill="#000" text-anchor="middle">M</text><path d="M321.5 833V837" stroke="#333" stroke-width="1.3"/><text x="321.3" y="859" font-size="24.5" fill="#000" text-anchor="middle">J</text><path d="M363.5 833V837" stroke="#333" stroke-width="1.3"/><text x="362.5" y="859" font-size="24.5" fill="#000" text-anchor="middle">J</text><path d="M402.5 833V837" stroke="#333" stroke-width="1.3"/><text x="401.8" y="859" font-size="24.5" fill="#000" text-anchor="middle">A</text><path d="M445.5 833V837" stroke="#333" stroke-width="1.3"/><text x="444.9" y="859" font-size="24.5" fill="#000" text-anchor="middle">S</text><path d="M484.5 833V837" stroke="#333" stroke-width="1.3"/><text x="484.2" y="859" font-size="24.5" fill="#000" text-anchor="middle">O</text><path d="M525.5 833V837" stroke="#333" stroke-width="1.3"/><text x="525.4" y="859" font-size="24.5" fill="#000" text-anchor="middle">N</text><path d="M567.5 833V837" stroke="#333" stroke-width="1.3"/><text x="566.6" y="859" font-size="24.5" fill="#000" text-anchor="middle">D</text><path d="M606.5 833V837" stroke="#333" stroke-width="1.3"/><text x="605.9" y="859" font-size="24.5" fill="#000" text-anchor="middle">J</text><path d="M649.5 833V837" stroke="#333" stroke-width="1.3"/><text x="648.9" y="859" font-size="24.5" fill="#000" text-anchor="middle">F</text><path d="M686.5 833V837" stroke="#333" stroke-width="1.3"/><text x="686.4" y="859" font-size="24.5" fill="#000" text-anchor="middle">M</text><path d="M728.5 833V837" stroke="#333" stroke-width="1.3"/><text x="727.6" y="859" font-size="24.5" fill="#000" text-anchor="middle">A</text><path d="M767.5 833V837" stroke="#333" stroke-width="1.3"/><text x="766.9" y="859" font-size="24.5" fill="#000" text-anchor="middle">M</text><path d="M810.5 833V837" stroke="#333" stroke-width="1.3"/><text x="809.9" y="859" font-size="24.5" fill="#000" text-anchor="middle">J</text><path d="M849.5 833V837" stroke="#333" stroke-width="1.3"/><text x="849.2" y="859" font-size="24.5" fill="#000" text-anchor="middle">J</text><path d="M890.5 833V837" stroke="#333" stroke-width="1.3"/><text x="890.4" y="859" font-size="24.5" fill="#000" text-anchor="middle">A</text><path d="M933.5 833V837" stroke="#333" stroke-width="1.3"/><text x="933.5" y="859" font-size="24.5" fill="#000" text-anchor="middle">S</text><path d="M971.5 833V837" stroke="#333" stroke-width="1.3"/><text x="970.9" y="859" font-size="24.5" fill="#000" text-anchor="middle">O</text><path d="M1014.5 833V837" stroke="#333" stroke-width="1.3"/><text x="1014" y="859" font-size="24.5" fill="#000" text-anchor="middle">N</text><path d="M1055.5 833V837" stroke="#333" stroke-width="1.3"/><text x="1055.2" y="859" font-size="24.5" fill="#000" text-anchor="middle">D</text><path d="M1094.5 833V837" stroke="#333" stroke-width="1.3"/><text x="1094.5" y="859" font-size="24.5" fill="#000" text-anchor="middle">J</text><path d="M1138.5 833V837" stroke="#333" stroke-width="1.3"/><text x="1137.5" y="859" font-size="24.5" fill="#000" text-anchor="middle">F</text><path d="M1175.5 833V837" stroke="#333" stroke-width="1.3"/><text x="1175" y="859" font-size="24.5" fill="#000" text-anchor="middle">M</text><path d="M1214.5 833V837" stroke="#333" stroke-width="1.3"/><text x="1214.3" y="859" font-size="24.5" fill="#000" text-anchor="middle">A</text><path d="M1255.5 833V837" stroke="#333" stroke-width="1.3"/><text x="1255.5" y="859" font-size="24.5" fill="#000" text-anchor="middle">M</text><path d="M1299.5 833V837" stroke="#333" stroke-width="1.3"/><text x="1298.5" y="859" font-size="24.5" fill="#000" text-anchor="middle">J</text><path d="M1336.5 833V837" stroke="#333" stroke-width="1.3"/><text x="1336" y="859" font-size="24.5" fill="#000" text-anchor="middle">J</text><path d="M1379.5 833V837" stroke="#333" stroke-width="1.3"/><text x="1379" y="859" font-size="24.5" fill="#000" text-anchor="middle">A</text><path d="M1420.5 833V837" stroke="#333" stroke-width="1.3"/><text x="1420.2" y="859" font-size="24.5" fill="#000" text-anchor="middle">S</text><path d="M1460.5 833V837" stroke="#333" stroke-width="1.3"/><text x="1459.5" y="859" font-size="24.5" fill="#000" text-anchor="middle">O</text><path d="M1503.5 833V837" stroke="#333" stroke-width="1.3"/><text x="1502.6" y="859" font-size="24.5" fill="#000" text-anchor="middle">N</text><path d="M1542.5 833V837" stroke="#333" stroke-width="1.3"/><text x="1541.9" y="859" font-size="24.5" fill="#000" text-anchor="middle">D</text><path d="M1583.5 833V837" stroke="#333" stroke-width="1.3"/><text x="1583.1" y="859" font-size="24.5" fill="#000" text-anchor="middle">J</text><path d="M1626.5 833V837" stroke="#333" stroke-width="1.3"/><text x="1626.1" y="859" font-size="24.5" fill="#000" text-anchor="middle">F</text><path d="M1664.5 833V837" stroke="#333" stroke-width="1.3"/><text x="1663.6" y="859" font-size="24.5" fill="#000" text-anchor="middle">M</text><path d="M1705.5 833V837" stroke="#333" stroke-width="1.3"/><text x="1704.7" y="859" font-size="24.5" fill="#000" text-anchor="middle">A</text><path d="M1746.5 833V837" stroke="#333" stroke-width="1.3"/><text x="1745.9" y="859" font-size="24.5" fill="#000" text-anchor="middle">M</text><path d="M1785.5 833V837" stroke="#333" stroke-width="1.3"/><text x="1785.2" y="859" font-size="24.5" fill="#000" text-anchor="middle">J</text><path d="M119.5 865.5V895" stroke="#000" stroke-width="1.3"/><path d="M241.5 865.5V895" stroke="#000" stroke-width="1.3"/><path d="M363.5 865.5V895" stroke="#000" stroke-width="1.3"/><path d="M484.5 865.5V895" stroke="#000" stroke-width="1.3"/><path d="M606.5 865.5V895" stroke="#000" stroke-width="1.3"/><path d="M728.5 865.5V895" stroke="#000" stroke-width="1.3"/><path d="M849.5 865.5V895" stroke="#000" stroke-width="1.3"/><path d="M971.5 865.5V895" stroke="#000" stroke-width="1.3"/><path d="M1094.5 865.5V895" stroke="#000" stroke-width="1.3"/><path d="M1214.5 865.5V895" stroke="#000" stroke-width="1.3"/><path d="M1336.5 865.5V895" stroke="#000" stroke-width="1.3"/><path d="M1460.5 865.5V895" stroke="#000" stroke-width="1.3"/><path d="M1583.5 865.5V895" stroke="#000" stroke-width="1.3"/><path d="M1705.5 865.5V895" stroke="#000" stroke-width="1.3"/><text x="62.9" y="893" font-size="31.4" fill="#000" font-weight="bold" text-anchor="middle">Q4 16</text><text x="178.3" y="893" font-size="31.4" fill="#000" font-weight="bold" text-anchor="middle">Q1 17</text><text x="300" y="893" font-size="31.4" fill="#000" font-weight="bold" text-anchor="middle">Q2 17</text><text x="421.7" y="893" font-size="31.4" fill="#000" font-weight="bold" text-anchor="middle">Q3 17</text><text x="543.3" y="893" font-size="31.4" fill="#000" font-weight="bold" text-anchor="middle">Q4 17</text><text x="665" y="893" font-size="31.4" fill="#000" font-weight="bold" text-anchor="middle">Q1 18</text><text x="786.7" y="893" font-size="31.4" fill="#000" font-weight="bold" text-anchor="middle">Q2 18</text><text x="908.4" y="893" font-size="31.4" fill="#000" font-weight="bold" text-anchor="middle">Q3 18</text><text x="1031" y="893" font-size="31.4" fill="#000" font-weight="bold" text-anchor="middle">Q4 18</text><text x="1152.7" y="893" font-size="31.4" fill="#000" font-weight="bold" text-anchor="middle">Q1 19</text><text x="1273.4" y="893" font-size="31.4" fill="#000" font-weight="bold" text-anchor="middle">Q2 19</text><text x="1396" y="893" font-size="31.4" fill="#000" font-weight="bold" text-anchor="middle">Q3 19</text><text x="1519.6" y="893" font-size="31.4" fill="#000" font-weight="bold" text-anchor="middle">Q4 19</text><text x="1642.2" y="893" font-size="31.4" fill="#000" font-weight="bold" text-anchor="middle">Q1 20</text><text x="1760.2" y="893" font-size="31.4" fill="#000" font-weight="bold" text-anchor="middle">Q2 20</text></svg></body></html>
